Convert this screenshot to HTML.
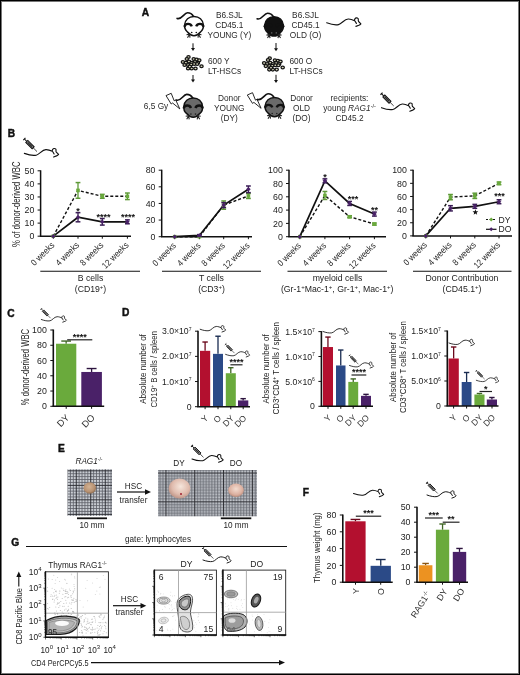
<!DOCTYPE html><html><head><meta charset="utf-8"><style>html,body{margin:0;padding:0;background:#fff;overflow:hidden;width:520px;height:675px;}svg{display:block;will-change:transform;font-family:"Liberation Sans", sans-serif;}</style></head><body><svg width="520" height="675" viewBox="0 0 520 675" font-family="Liberation Sans, sans-serif"><rect width="520" height="675" fill="#fff"/>
<defs>
<path id="smouse" d="M0,0 C4,1.5 8.5,2.4 11.8,1.8 C15,1.2 17.5,-3.6 21.5,-3.8 C24,-3.9 26.5,-2.8 27.9,-2.1 C27.6,-3.4 28.4,-4.8 29.8,-4.9 C31,-5 31.8,-4.2 31.6,-3.4 C31.5,-2.5 31.6,-1.8 31.9,-1.3 L34.2,1 C33.5,1.8 32.8,2.2 32.1,2.5 L29.2,3.6 M28.4,-1.6 L29.7,0.6" fill="none" stroke="#111" stroke-width="1.15" stroke-linecap="round" stroke-linejoin="round"/>
<g id="syr">
 <line x1="0" y1="-1.6" x2="0" y2="1.6" stroke="#111" stroke-width="1.2"/>
 <line x1="0" y1="0" x2="3.6" y2="0" stroke="#111" stroke-width="1.1"/>
 <rect x="3.6" y="-1.5" width="9.6" height="3.0" fill="#888" stroke="#111" stroke-width="1.1"/>
 <line x1="5" y1="0" x2="11.5" y2="0" stroke="#222" stroke-width="1.1"/>
 <line x1="13.2" y1="0" x2="19" y2="0" stroke="#111" stroke-width="0.8"/>
</g>
<g id="tmouse">
 <path d="M-16.9,-7.8 C-12.5,-6 -10,-13.4 -6.5,-13.4 C-3.5,-13.4 -1.5,-11.5 -0.4,-9.6" fill="none" stroke="#111" stroke-width="1.6" stroke-linecap="round"/>
 <path d="M0,-9.8 C5.3,-9.8 8.8,-6.3 9.3,-1.5 C9.8,1.5 8.5,4 6.5,5.8 C4.5,8.2 2.5,9.5 0,9.5 C-2.5,9.5 -4.5,8.2 -6.5,5.8 C-8.5,4 -9.8,1.5 -9.3,-1.5 C-8.8,-6.3 -5.3,-9.8 0,-9.8Z" stroke="#111" stroke-width="1.5"/>
 <path d="M-9.5,0.6 C-8.8,-3.2 -3.5,-3.2 -2.2,0.2" fill="none" stroke="#111" stroke-width="2.4"/>
 <path d="M9.5,0.6 C8.8,-3.2 3.5,-3.2 2.2,0.2" fill="none" stroke="#111" stroke-width="2.4"/>
 <path d="M-7.5,8.5 L-4.5,8 L-6.5,11.5 M-4.5,8 L-4,11.5 M7.5,8.5 L4.5,8 L6.5,11.5 M4.5,8 L4,11.5" fill="none" stroke="#222" stroke-width="1.1"/>
</g>
<path id="bolt" d="M0,0 L5.2,-2.3 L8.2,5.2 L9.7,4.3 L13.8,13.3 L6.6,7.4 L5.2,8.4 Z" fill="#fff" stroke="#111" stroke-width="0.9" stroke-linejoin="miter"/>
<pattern id="grid" x="75.75" y="470.35" width="14.5" height="14.5" patternUnits="userSpaceOnUse">
 <rect width="14.5" height="14.5" fill="#ccd0d6"/>
 <path d="M0,0.45H14.5 M0.45,0V14.5 M0,3.35H14.5 M3.35,0V14.5 M0,6.25H14.5 M6.25,0V14.5 M0,9.15H14.5 M9.15,0V14.5 M0,12.05H14.5 M12.05,0V14.5" stroke="#5c5f68" stroke-width="0.85"/>
 <path d="M0,0.45H14.5 M0.45,0V14.5" stroke="#2a2b31" stroke-width="1.1"/>
</pattern>
<pattern id="grid2" x="165.45000000000002" y="472.55" width="28.8" height="28.8" patternUnits="userSpaceOnUse">
 <rect width="28.8" height="28.8" fill="#c2c5cb"/>
 <path d="M0,0.45H28.8 M0.45,0V28.8 M0,3.33H28.8 M3.33,0V28.8 M0,6.21H28.8 M6.21,0V28.8 M0,9.09H28.8 M9.09,0V28.8 M0,11.97H28.8 M11.97,0V28.8 M0,14.85H28.8 M14.85,0V28.8 M0,17.73H28.8 M17.73,0V28.8 M0,20.61H28.8 M20.61,0V28.8 M0,23.49H28.8 M23.49,0V28.8 M0,26.37H28.8 M26.37,0V28.8" stroke="#62656d" stroke-width="0.85"/>
 <path d="M0,0.45H28.8 M0.45,0V28.8" stroke="#2c2d32" stroke-width="1.1"/>
</pattern>
<radialGradient id="thy1" cx="0.45" cy="0.4" r="0.6"><stop offset="0" stop-color="#d2b294"/><stop offset="0.7" stop-color="#b89272"/><stop offset="1" stop-color="#8e6d50"/></radialGradient>
<radialGradient id="thy2" cx="0.55" cy="0.4" r="0.65"><stop offset="0" stop-color="#f6e6dc"/><stop offset="0.6" stop-color="#e0bcae"/><stop offset="1" stop-color="#b98e80"/></radialGradient>
<radialGradient id="thy3" cx="0.5" cy="0.4" r="0.6"><stop offset="0" stop-color="#f3dcd0"/><stop offset="0.7" stop-color="#dcb0a0"/><stop offset="1" stop-color="#b88a7a"/></radialGradient>
</defs>

<rect x="0.5" y="0.5" width="519" height="674" fill="none" stroke="#000" stroke-width="1"/>
<rect x="1.5" y="1.5" width="517" height="672" fill="none" stroke="#777" stroke-width="1"/>
<text x="141.8" y="16.3" font-size="10.2" text-anchor="start" fill="#111" font-weight="bold" stroke="#111" stroke-width="0.45">A</text>
<g transform="translate(194,26.2) scale(1.0)" fill="#fff"><use href="#tmouse"/><circle cx="-2.3" cy="6.3" r="0.8" fill="#111"/><circle cx="2.3" cy="6.3" r="0.8" fill="#111"/></g>
<g transform="translate(274,26.6) scale(1.0)" fill="#111"><use href="#tmouse"/><circle cx="-2.3" cy="6.3" r="0.8" fill="#555"/><circle cx="2.3" cy="6.3" r="0.8" fill="#555"/></g>
<text x="229.3" y="17.8" font-size="8.3" text-anchor="middle" fill="#2a2a2a" font-weight="normal" >B6.SJL</text>
<text x="229.3" y="27.9" font-size="8.3" text-anchor="middle" fill="#2a2a2a" font-weight="normal" >CD45.1</text>
<text x="229.3" y="38.0" font-size="8.3" text-anchor="middle" fill="#2a2a2a" font-weight="normal" >YOUNG (Y)</text>
<text x="305.5" y="17.8" font-size="8.3" text-anchor="middle" fill="#2a2a2a" font-weight="normal" >B6.SJL</text>
<text x="305.5" y="27.9" font-size="8.3" text-anchor="middle" fill="#2a2a2a" font-weight="normal" >CD45.1</text>
<text x="305.5" y="38.0" font-size="8.3" text-anchor="middle" fill="#2a2a2a" font-weight="normal" >OLD (O)</text>
<use href="#smouse" transform="translate(326.7,22.8) scale(1.0)" />
<line x1="193" y1="43.3" x2="193" y2="48.5" stroke="#111" stroke-width="1"/>
<path d="M191,48 L195,48 L193,51 Z" fill="#111"/>
<line x1="276" y1="43" x2="276" y2="48.8" stroke="#111" stroke-width="1"/>
<path d="M274,48.3 L278,48.3 L276,51.3 Z" fill="#111"/>
<ellipse cx="188.5" cy="57.099999999999994" rx="1.65" ry="1.4" fill="#deddc0" stroke="#121212" stroke-width="1.25"/>
<ellipse cx="193.70000000000002" cy="59.099999999999994" rx="1.65" ry="1.4" fill="#deddc0" stroke="#121212" stroke-width="1.25"/>
<ellipse cx="196.70000000000002" cy="59.5" rx="1.65" ry="1.4" fill="#deddc0" stroke="#121212" stroke-width="1.25"/>
<ellipse cx="199.3" cy="60.199999999999996" rx="1.65" ry="1.4" fill="#deddc0" stroke="#121212" stroke-width="1.25"/>
<ellipse cx="186.8" cy="58.9" rx="1.65" ry="1.4" fill="#deddc0" stroke="#121212" stroke-width="1.25"/>
<ellipse cx="182.9" cy="61.9" rx="1.65" ry="1.4" fill="#deddc0" stroke="#121212" stroke-width="1.25"/>
<ellipse cx="185.9" cy="62.8" rx="1.65" ry="1.4" fill="#deddc0" stroke="#121212" stroke-width="1.25"/>
<ellipse cx="189.0" cy="61.5" rx="1.65" ry="1.4" fill="#deddc0" stroke="#121212" stroke-width="1.25"/>
<ellipse cx="191.60000000000002" cy="62.8" rx="1.65" ry="1.4" fill="#deddc0" stroke="#121212" stroke-width="1.25"/>
<ellipse cx="195.0" cy="61.9" rx="1.65" ry="1.4" fill="#deddc0" stroke="#121212" stroke-width="1.25"/>
<ellipse cx="198.0" cy="62.8" rx="1.65" ry="1.4" fill="#deddc0" stroke="#121212" stroke-width="1.25"/>
<ellipse cx="184.60000000000002" cy="64.89999999999999" rx="1.65" ry="1.4" fill="#deddc0" stroke="#121212" stroke-width="1.25"/>
<ellipse cx="188.10000000000002" cy="64.89999999999999" rx="1.65" ry="1.4" fill="#deddc0" stroke="#121212" stroke-width="1.25"/>
<ellipse cx="191.10000000000002" cy="64.5" rx="1.65" ry="1.4" fill="#deddc0" stroke="#121212" stroke-width="1.25"/>
<ellipse cx="194.20000000000002" cy="64.0" rx="1.65" ry="1.4" fill="#deddc0" stroke="#121212" stroke-width="1.25"/>
<ellipse cx="197.20000000000002" cy="64.0" rx="1.65" ry="1.4" fill="#deddc0" stroke="#121212" stroke-width="1.25"/>
<ellipse cx="201.5" cy="66.2" rx="1.65" ry="1.4" fill="#deddc0" stroke="#121212" stroke-width="1.25"/>
<ellipse cx="188.10000000000002" cy="68.39999999999999" rx="1.65" ry="1.4" fill="#deddc0" stroke="#121212" stroke-width="1.25"/>
<ellipse cx="191.60000000000002" cy="68.39999999999999" rx="1.65" ry="1.4" fill="#deddc0" stroke="#121212" stroke-width="1.25"/>
<ellipse cx="195.5" cy="68.39999999999999" rx="1.65" ry="1.4" fill="#deddc0" stroke="#121212" stroke-width="1.25"/>
<ellipse cx="189.8" cy="66.6" rx="1.65" ry="1.4" fill="#deddc0" stroke="#121212" stroke-width="1.25"/>
<ellipse cx="269.7" cy="58.3" rx="1.65" ry="1.4" fill="#deddc0" stroke="#121212" stroke-width="1.25"/>
<ellipse cx="274.9" cy="60.3" rx="1.65" ry="1.4" fill="#deddc0" stroke="#121212" stroke-width="1.25"/>
<ellipse cx="277.9" cy="60.7" rx="1.65" ry="1.4" fill="#deddc0" stroke="#121212" stroke-width="1.25"/>
<ellipse cx="280.5" cy="61.4" rx="1.65" ry="1.4" fill="#deddc0" stroke="#121212" stroke-width="1.25"/>
<ellipse cx="268.0" cy="60.1" rx="1.65" ry="1.4" fill="#deddc0" stroke="#121212" stroke-width="1.25"/>
<ellipse cx="264.1" cy="63.1" rx="1.65" ry="1.4" fill="#deddc0" stroke="#121212" stroke-width="1.25"/>
<ellipse cx="267.1" cy="64" rx="1.65" ry="1.4" fill="#deddc0" stroke="#121212" stroke-width="1.25"/>
<ellipse cx="270.2" cy="62.7" rx="1.65" ry="1.4" fill="#deddc0" stroke="#121212" stroke-width="1.25"/>
<ellipse cx="272.8" cy="64" rx="1.65" ry="1.4" fill="#deddc0" stroke="#121212" stroke-width="1.25"/>
<ellipse cx="276.2" cy="63.1" rx="1.65" ry="1.4" fill="#deddc0" stroke="#121212" stroke-width="1.25"/>
<ellipse cx="279.2" cy="64" rx="1.65" ry="1.4" fill="#deddc0" stroke="#121212" stroke-width="1.25"/>
<ellipse cx="265.8" cy="66.1" rx="1.65" ry="1.4" fill="#deddc0" stroke="#121212" stroke-width="1.25"/>
<ellipse cx="269.3" cy="66.1" rx="1.65" ry="1.4" fill="#deddc0" stroke="#121212" stroke-width="1.25"/>
<ellipse cx="272.3" cy="65.7" rx="1.65" ry="1.4" fill="#deddc0" stroke="#121212" stroke-width="1.25"/>
<ellipse cx="275.4" cy="65.2" rx="1.65" ry="1.4" fill="#deddc0" stroke="#121212" stroke-width="1.25"/>
<ellipse cx="278.4" cy="65.2" rx="1.65" ry="1.4" fill="#deddc0" stroke="#121212" stroke-width="1.25"/>
<ellipse cx="282.7" cy="67.4" rx="1.65" ry="1.4" fill="#deddc0" stroke="#121212" stroke-width="1.25"/>
<ellipse cx="269.3" cy="69.6" rx="1.65" ry="1.4" fill="#deddc0" stroke="#121212" stroke-width="1.25"/>
<ellipse cx="272.8" cy="69.6" rx="1.65" ry="1.4" fill="#deddc0" stroke="#121212" stroke-width="1.25"/>
<ellipse cx="276.7" cy="69.6" rx="1.65" ry="1.4" fill="#deddc0" stroke="#121212" stroke-width="1.25"/>
<ellipse cx="271.0" cy="67.8" rx="1.65" ry="1.4" fill="#deddc0" stroke="#121212" stroke-width="1.25"/>
<text x="208" y="64.3" font-size="8.3" text-anchor="start" fill="#2a2a2a" font-weight="normal" >600 Y</text>
<text x="208" y="74.4" font-size="8.3" text-anchor="start" fill="#2a2a2a" font-weight="normal" >LT-HSCs</text>
<text x="289.5" y="64.3" font-size="8.3" text-anchor="start" fill="#2a2a2a" font-weight="normal" >600 O</text>
<text x="289.5" y="74.4" font-size="8.3" text-anchor="start" fill="#2a2a2a" font-weight="normal" >LT-HSCs</text>
<line x1="193" y1="75" x2="193" y2="80.1" stroke="#111" stroke-width="1"/>
<path d="M191,79.6 L195,79.6 L193,82.6 Z" fill="#111"/>
<line x1="276" y1="74.8" x2="276" y2="80.5" stroke="#111" stroke-width="1"/>
<path d="M274,80 L278,80 L276,83 Z" fill="#111"/>
<text x="143.8" y="108.6" font-size="8.3" text-anchor="start" fill="#2a2a2a" font-weight="normal" >6,5 Gy</text>
<use href="#bolt" transform="translate(166,95.6)"/>
<use href="#bolt" transform="translate(247.3,95)"/>
<g transform="translate(193.2,107.8) scale(1.0)" fill="#6a6a6a"><use href="#tmouse"/><circle cx="-2.3" cy="6.3" r="0.8" fill="#222"/><circle cx="2.3" cy="6.3" r="0.8" fill="#222"/></g>
<g transform="translate(274.5,107.2) scale(1.0)" fill="#6a6a6a"><use href="#tmouse"/><circle cx="-2.3" cy="6.3" r="0.8" fill="#222"/><circle cx="2.3" cy="6.3" r="0.8" fill="#222"/></g>
<text x="229.3" y="100.6" font-size="8.3" text-anchor="middle" fill="#2a2a2a" font-weight="normal" >Donor</text>
<text x="229.3" y="110.8" font-size="8.3" text-anchor="middle" fill="#2a2a2a" font-weight="normal" >YOUNG</text>
<text x="229.3" y="121.0" font-size="8.3" text-anchor="middle" fill="#2a2a2a" font-weight="normal" >(DY)</text>
<text x="301.5" y="100.6" font-size="8.3" text-anchor="middle" fill="#2a2a2a" font-weight="normal" >Donor</text>
<text x="301.5" y="110.8" font-size="8.3" text-anchor="middle" fill="#2a2a2a" font-weight="normal" >OLD</text>
<text x="301.5" y="121.0" font-size="8.3" text-anchor="middle" fill="#2a2a2a" font-weight="normal" >(DO)</text>
<text x="349.5" y="101.2" font-size="8.3" text-anchor="middle" fill="#2a2a2a" font-weight="normal" >recipients:</text>
<text x="349.5" y="111.0" font-size="8.3" text-anchor="middle" fill="#2a2a2a" font-weight="normal" >young <tspan font-style="italic">RAG1</tspan><tspan font-size="5.5" dy="-3">-/-</tspan></text>
<text x="349.5" y="120.8" font-size="8.3" text-anchor="middle" fill="#2a2a2a" font-weight="normal" >CD45.2</text>
<use href="#smouse" transform="translate(381.5,107.7) scale(0.9705882352941176)" />
<use href="#syr" transform="translate(381.5,93.7235294117647) rotate(45) scale(0.9102631567101129)" />
<text x="7.7" y="137.3" font-size="10.2" text-anchor="start" fill="#111" font-weight="bold" stroke="#111" stroke-width="0.45">B</text>
<use href="#smouse" transform="translate(24.4,153.4) scale(1.0)" />
<use href="#syr" transform="translate(24.4,139.0) rotate(45) scale(0.9378468887316315)" />
<line x1="40.6" y1="170.3" x2="40.6" y2="236.2" stroke="#111" stroke-width="1.5"/>
<line x1="39.9" y1="236.2" x2="131" y2="236.2" stroke="#111" stroke-width="1.5"/>
<line x1="37.6" y1="236.2" x2="40.6" y2="236.2" stroke="#111" stroke-width="1"/>
<text x="34.4" y="239.39999999999998" font-size="8.8" text-anchor="end" fill="#222" font-weight="normal" >0</text>
<line x1="37.6" y1="223.12" x2="40.6" y2="223.12" stroke="#111" stroke-width="1"/>
<text x="34.4" y="226.32" font-size="8.8" text-anchor="end" fill="#222" font-weight="normal" >10</text>
<line x1="37.6" y1="210.04" x2="40.6" y2="210.04" stroke="#111" stroke-width="1"/>
<text x="34.4" y="213.23999999999998" font-size="8.8" text-anchor="end" fill="#222" font-weight="normal" >20</text>
<line x1="37.6" y1="196.96" x2="40.6" y2="196.96" stroke="#111" stroke-width="1"/>
<text x="34.4" y="200.16" font-size="8.8" text-anchor="end" fill="#222" font-weight="normal" >30</text>
<line x1="37.6" y1="183.88" x2="40.6" y2="183.88" stroke="#111" stroke-width="1"/>
<text x="34.4" y="187.07999999999998" font-size="8.8" text-anchor="end" fill="#222" font-weight="normal" >40</text>
<line x1="37.6" y1="170.8" x2="40.6" y2="170.8" stroke="#111" stroke-width="1"/>
<text x="34.4" y="174.0" font-size="8.8" text-anchor="end" fill="#222" font-weight="normal" >50</text>
<line x1="53.3" y1="236.2" x2="53.3" y2="238.7" stroke="#111" stroke-width="1"/>
<line x1="78" y1="236.2" x2="78" y2="238.7" stroke="#111" stroke-width="1"/>
<line x1="102.3" y1="236.2" x2="102.3" y2="238.7" stroke="#111" stroke-width="1"/>
<line x1="127.4" y1="236.2" x2="127.4" y2="238.7" stroke="#111" stroke-width="1"/>
<text transform="translate(55.099999999999994,245.7) rotate(-45) scale(0.88,1)" font-size="9.0" text-anchor="end" fill="#222" >0 weeks</text>
<text transform="translate(79.8,245.7) rotate(-45) scale(0.88,1)" font-size="9.0" text-anchor="end" fill="#222" >4 weeks</text>
<text transform="translate(104.1,245.7) rotate(-45) scale(0.88,1)" font-size="9.0" text-anchor="end" fill="#222" >8 weeks</text>
<text transform="translate(129.20000000000002,245.7) rotate(-45) scale(0.88,1)" font-size="9.0" text-anchor="end" fill="#222" >12 weeks</text>
<polyline points="53.3,236.2 78,190.42000000000002 102.3,196.30599999999998 127.4,196.30599999999998" fill="none" stroke="#111" stroke-width="1.4" stroke-dasharray="3,2"/>
<polyline points="53.3,236.2 78,217.23399999999998 102.3,221.81199999999998 127.4,221.81199999999998" fill="none" stroke="#111" stroke-width="1.7"/>
<rect x="51.5" y="234.39999999999998" width="3.6" height="3.6" fill="#6aaa3c"/>
<line x1="78" y1="182.572" x2="78" y2="198.268" stroke="#5f9a38" stroke-width="1.3"/>
<line x1="75.6" y1="182.572" x2="80.4" y2="182.572" stroke="#5f9a38" stroke-width="1.5"/>
<line x1="75.6" y1="198.268" x2="80.4" y2="198.268" stroke="#5f9a38" stroke-width="1.5"/>
<rect x="76.2" y="188.62" width="3.6" height="3.6" fill="#6aaa3c"/>
<line x1="102.3" y1="194.344" x2="102.3" y2="198.268" stroke="#5f9a38" stroke-width="1.3"/>
<line x1="99.89999999999999" y1="194.344" x2="104.7" y2="194.344" stroke="#5f9a38" stroke-width="1.5"/>
<line x1="99.89999999999999" y1="198.268" x2="104.7" y2="198.268" stroke="#5f9a38" stroke-width="1.5"/>
<rect x="100.5" y="194.50599999999997" width="3.6" height="3.6" fill="#6aaa3c"/>
<line x1="127.4" y1="193.036" x2="127.4" y2="199.576" stroke="#5f9a38" stroke-width="1.3"/>
<line x1="125.0" y1="193.036" x2="129.8" y2="193.036" stroke="#5f9a38" stroke-width="1.5"/>
<line x1="125.0" y1="199.576" x2="129.8" y2="199.576" stroke="#5f9a38" stroke-width="1.5"/>
<rect x="125.60000000000001" y="194.50599999999997" width="3.6" height="3.6" fill="#6aaa3c"/>
<path d="M53.3,233.89999999999998 L55.599999999999994,236.2 L53.3,238.5 L51.0,236.2 Z" fill="#4a2168"/>
<line x1="78" y1="212.656" x2="78" y2="221.81199999999998" stroke="#3a1d55" stroke-width="1.3"/>
<line x1="75.6" y1="212.656" x2="80.4" y2="212.656" stroke="#3a1d55" stroke-width="1.5"/>
<line x1="75.6" y1="221.81199999999998" x2="80.4" y2="221.81199999999998" stroke="#3a1d55" stroke-width="1.5"/>
<path d="M78,214.93399999999997 L80.3,217.23399999999998 L78,219.534 L75.7,217.23399999999998 Z" fill="#4a2168"/>
<line x1="102.3" y1="218.542" x2="102.3" y2="225.082" stroke="#3a1d55" stroke-width="1.3"/>
<line x1="99.89999999999999" y1="218.542" x2="104.7" y2="218.542" stroke="#3a1d55" stroke-width="1.5"/>
<line x1="99.89999999999999" y1="225.082" x2="104.7" y2="225.082" stroke="#3a1d55" stroke-width="1.5"/>
<path d="M102.3,219.51199999999997 L104.6,221.81199999999998 L102.3,224.112 L100.0,221.81199999999998 Z" fill="#4a2168"/>
<line x1="127.4" y1="219.85" x2="127.4" y2="223.774" stroke="#3a1d55" stroke-width="1.3"/>
<line x1="125.0" y1="219.85" x2="129.8" y2="219.85" stroke="#3a1d55" stroke-width="1.5"/>
<line x1="125.0" y1="223.774" x2="129.8" y2="223.774" stroke="#3a1d55" stroke-width="1.5"/>
<path d="M127.4,219.51199999999997 L129.70000000000002,221.81199999999998 L127.4,224.112 L125.10000000000001,221.81199999999998 Z" fill="#4a2168"/>
<text x="78.1" y="213.63" font-size="9.0" font-weight="bold" text-anchor="middle" letter-spacing="0" fill="#111">*</text>
<text x="103.5" y="220.13" font-size="9.0" font-weight="bold" text-anchor="middle" letter-spacing="0" fill="#111">****</text>
<text x="128" y="220.42999999999998" font-size="9.0" font-weight="bold" text-anchor="middle" letter-spacing="0" fill="#111">****</text>
<line x1="40.3" y1="271.2" x2="140" y2="271.2" stroke="#111" stroke-width="1.1"/>
<text x="90.5" y="280.9" font-size="8.7" text-anchor="middle" fill="#222" font-weight="normal" >B cells</text>
<text x="90.5" y="292.4" font-size="8.7" text-anchor="middle" fill="#222" font-weight="normal" >(CD19<tspan font-size="6" dy="-3">+</tspan><tspan dy="3">)</tspan></text>
<text transform="translate(20.2,204.2) rotate(-90)" font-size="10.0" text-anchor="middle" fill="#222"  textLength="85.6" lengthAdjust="spacingAndGlyphs">% of donor-derived WBC</text>
<line x1="161.7" y1="169.7" x2="161.7" y2="236.7" stroke="#111" stroke-width="1.5"/>
<line x1="161.0" y1="236.7" x2="252" y2="236.7" stroke="#111" stroke-width="1.5"/>
<line x1="158.7" y1="236.7" x2="161.7" y2="236.7" stroke="#111" stroke-width="1"/>
<text x="155.5" y="239.89999999999998" font-size="8.8" text-anchor="end" fill="#222" font-weight="normal" >0</text>
<line x1="158.7" y1="220.075" x2="161.7" y2="220.075" stroke="#111" stroke-width="1"/>
<text x="155.5" y="223.27499999999998" font-size="8.8" text-anchor="end" fill="#222" font-weight="normal" >20</text>
<line x1="158.7" y1="203.45" x2="161.7" y2="203.45" stroke="#111" stroke-width="1"/>
<text x="155.5" y="206.64999999999998" font-size="8.8" text-anchor="end" fill="#222" font-weight="normal" >40</text>
<line x1="158.7" y1="186.825" x2="161.7" y2="186.825" stroke="#111" stroke-width="1"/>
<text x="155.5" y="190.02499999999998" font-size="8.8" text-anchor="end" fill="#222" font-weight="normal" >60</text>
<line x1="158.7" y1="170.2" x2="161.7" y2="170.2" stroke="#111" stroke-width="1"/>
<text x="155.5" y="173.39999999999998" font-size="8.8" text-anchor="end" fill="#222" font-weight="normal" >80</text>
<line x1="174.7" y1="236.7" x2="174.7" y2="239.2" stroke="#111" stroke-width="1"/>
<line x1="199.4" y1="236.7" x2="199.4" y2="239.2" stroke="#111" stroke-width="1"/>
<line x1="223.7" y1="236.7" x2="223.7" y2="239.2" stroke="#111" stroke-width="1"/>
<line x1="248.4" y1="236.7" x2="248.4" y2="239.2" stroke="#111" stroke-width="1"/>
<text transform="translate(176.5,246.2) rotate(-45) scale(0.88,1)" font-size="9.0" text-anchor="end" fill="#222" >0 weeks</text>
<text transform="translate(201.20000000000002,246.2) rotate(-45) scale(0.88,1)" font-size="9.0" text-anchor="end" fill="#222" >4 weeks</text>
<text transform="translate(225.5,246.2) rotate(-45) scale(0.88,1)" font-size="9.0" text-anchor="end" fill="#222" >8 weeks</text>
<text transform="translate(250.20000000000002,246.2) rotate(-45) scale(0.88,1)" font-size="9.0" text-anchor="end" fill="#222" >12 weeks</text>
<polyline points="174.7,236.7 199.4,236.7 223.7,205.11249999999998 248.4,195.96875" fill="none" stroke="#111" stroke-width="1.4" stroke-dasharray="3,2"/>
<polyline points="174.7,236.7 199.4,235.453125 223.7,205.11249999999998 248.4,189.31875" fill="none" stroke="#111" stroke-width="1.7"/>
<rect x="172.89999999999998" y="234.89999999999998" width="3.6" height="3.6" fill="#6aaa3c"/>
<rect x="197.6" y="234.89999999999998" width="3.6" height="3.6" fill="#6aaa3c"/>
<line x1="223.7" y1="200.95624999999998" x2="223.7" y2="209.26874999999998" stroke="#5f9a38" stroke-width="1.3"/>
<line x1="221.29999999999998" y1="200.95624999999998" x2="226.1" y2="200.95624999999998" stroke="#5f9a38" stroke-width="1.5"/>
<line x1="221.29999999999998" y1="209.26874999999998" x2="226.1" y2="209.26874999999998" stroke="#5f9a38" stroke-width="1.5"/>
<rect x="221.89999999999998" y="203.31249999999997" width="3.6" height="3.6" fill="#6aaa3c"/>
<line x1="248.4" y1="193.475" x2="248.4" y2="198.46249999999998" stroke="#5f9a38" stroke-width="1.3"/>
<line x1="246.0" y1="193.475" x2="250.8" y2="193.475" stroke="#5f9a38" stroke-width="1.5"/>
<line x1="246.0" y1="198.46249999999998" x2="250.8" y2="198.46249999999998" stroke="#5f9a38" stroke-width="1.5"/>
<rect x="246.6" y="194.16875" width="3.6" height="3.6" fill="#6aaa3c"/>
<path d="M174.7,234.39999999999998 L177.0,236.7 L174.7,239.0 L172.39999999999998,236.7 Z" fill="#4a2168"/>
<line x1="199.4" y1="234.621875" x2="199.4" y2="236.28437499999998" stroke="#3a1d55" stroke-width="1.3"/>
<line x1="197.0" y1="234.621875" x2="201.8" y2="234.621875" stroke="#3a1d55" stroke-width="1.5"/>
<line x1="197.0" y1="236.28437499999998" x2="201.8" y2="236.28437499999998" stroke="#3a1d55" stroke-width="1.5"/>
<path d="M199.4,233.153125 L201.70000000000002,235.453125 L199.4,237.753125 L197.1,235.453125 Z" fill="#4a2168"/>
<line x1="223.7" y1="202.61874999999998" x2="223.7" y2="207.60625" stroke="#3a1d55" stroke-width="1.3"/>
<line x1="221.29999999999998" y1="202.61874999999998" x2="226.1" y2="202.61874999999998" stroke="#3a1d55" stroke-width="1.5"/>
<line x1="221.29999999999998" y1="207.60625" x2="226.1" y2="207.60625" stroke="#3a1d55" stroke-width="1.5"/>
<path d="M223.7,202.81249999999997 L226.0,205.11249999999998 L223.7,207.4125 L221.39999999999998,205.11249999999998 Z" fill="#4a2168"/>
<line x1="248.4" y1="185.99374999999998" x2="248.4" y2="192.64374999999998" stroke="#3a1d55" stroke-width="1.3"/>
<line x1="246.0" y1="185.99374999999998" x2="250.8" y2="185.99374999999998" stroke="#3a1d55" stroke-width="1.5"/>
<line x1="246.0" y1="192.64374999999998" x2="250.8" y2="192.64374999999998" stroke="#3a1d55" stroke-width="1.5"/>
<path d="M248.4,187.01874999999998 L250.70000000000002,189.31875 L248.4,191.61875 L246.1,189.31875 Z" fill="#4a2168"/>
<line x1="162" y1="271.2" x2="261" y2="271.2" stroke="#111" stroke-width="1.1"/>
<text x="211.5" y="280.9" font-size="8.7" text-anchor="middle" fill="#222" font-weight="normal" >T cells</text>
<text x="211.5" y="292.4" font-size="8.7" text-anchor="middle" fill="#222" font-weight="normal" >(CD3<tspan font-size="6" dy="-3">+</tspan><tspan dy="3">)</tspan></text>
<line x1="289" y1="169.7" x2="289" y2="236.7" stroke="#111" stroke-width="1.5"/>
<line x1="288.3" y1="236.7" x2="386" y2="236.7" stroke="#111" stroke-width="1.5"/>
<line x1="286" y1="236.7" x2="289" y2="236.7" stroke="#111" stroke-width="1"/>
<text x="282.8" y="239.89999999999998" font-size="8.8" text-anchor="end" fill="#222" font-weight="normal" >0</text>
<line x1="286" y1="223.39999999999998" x2="289" y2="223.39999999999998" stroke="#111" stroke-width="1"/>
<text x="282.8" y="226.59999999999997" font-size="8.8" text-anchor="end" fill="#222" font-weight="normal" >20</text>
<line x1="286" y1="210.1" x2="289" y2="210.1" stroke="#111" stroke-width="1"/>
<text x="282.8" y="213.29999999999998" font-size="8.8" text-anchor="end" fill="#222" font-weight="normal" >40</text>
<line x1="286" y1="196.79999999999998" x2="289" y2="196.79999999999998" stroke="#111" stroke-width="1"/>
<text x="282.8" y="199.99999999999997" font-size="8.8" text-anchor="end" fill="#222" font-weight="normal" >60</text>
<line x1="286" y1="183.5" x2="289" y2="183.5" stroke="#111" stroke-width="1"/>
<text x="282.8" y="186.7" font-size="8.8" text-anchor="end" fill="#222" font-weight="normal" >80</text>
<line x1="286" y1="170.2" x2="289" y2="170.2" stroke="#111" stroke-width="1"/>
<text x="282.8" y="173.39999999999998" font-size="8.8" text-anchor="end" fill="#222" font-weight="normal" >100</text>
<line x1="299.8" y1="236.7" x2="299.8" y2="239.2" stroke="#111" stroke-width="1"/>
<line x1="324.9" y1="236.7" x2="324.9" y2="239.2" stroke="#111" stroke-width="1"/>
<line x1="349.6" y1="236.7" x2="349.6" y2="239.2" stroke="#111" stroke-width="1"/>
<line x1="374.4" y1="236.7" x2="374.4" y2="239.2" stroke="#111" stroke-width="1"/>
<text transform="translate(301.6,246.2) rotate(-45) scale(0.88,1)" font-size="9.0" text-anchor="end" fill="#222" >0 weeks</text>
<text transform="translate(326.7,246.2) rotate(-45) scale(0.88,1)" font-size="9.0" text-anchor="end" fill="#222" >4 weeks</text>
<text transform="translate(351.40000000000003,246.2) rotate(-45) scale(0.88,1)" font-size="9.0" text-anchor="end" fill="#222" >8 weeks</text>
<text transform="translate(376.2,246.2) rotate(-45) scale(0.88,1)" font-size="9.0" text-anchor="end" fill="#222" >12 weeks</text>
<polyline points="299.8,236.7 324.9,195.46999999999997 349.6,216.75 374.4,224.065" fill="none" stroke="#111" stroke-width="1.4" stroke-dasharray="3,2"/>
<polyline points="299.8,236.7 324.9,180.83999999999997 349.6,203.45 374.4,214.08999999999997" fill="none" stroke="#111" stroke-width="1.7"/>
<rect x="298.0" y="234.89999999999998" width="3.6" height="3.6" fill="#6aaa3c"/>
<line x1="324.9" y1="191.48" x2="324.9" y2="199.45999999999998" stroke="#5f9a38" stroke-width="1.3"/>
<line x1="322.5" y1="191.48" x2="327.29999999999995" y2="191.48" stroke="#5f9a38" stroke-width="1.5"/>
<line x1="322.5" y1="199.45999999999998" x2="327.29999999999995" y2="199.45999999999998" stroke="#5f9a38" stroke-width="1.5"/>
<rect x="323.09999999999997" y="193.66999999999996" width="3.6" height="3.6" fill="#6aaa3c"/>
<line x1="349.6" y1="215.7525" x2="349.6" y2="217.7475" stroke="#5f9a38" stroke-width="1.3"/>
<line x1="347.20000000000005" y1="215.7525" x2="352.0" y2="215.7525" stroke="#5f9a38" stroke-width="1.5"/>
<line x1="347.20000000000005" y1="217.7475" x2="352.0" y2="217.7475" stroke="#5f9a38" stroke-width="1.5"/>
<rect x="347.8" y="214.95" width="3.6" height="3.6" fill="#6aaa3c"/>
<line x1="374.4" y1="223.0675" x2="374.4" y2="225.0625" stroke="#5f9a38" stroke-width="1.3"/>
<line x1="372.0" y1="223.0675" x2="376.79999999999995" y2="223.0675" stroke="#5f9a38" stroke-width="1.5"/>
<line x1="372.0" y1="225.0625" x2="376.79999999999995" y2="225.0625" stroke="#5f9a38" stroke-width="1.5"/>
<rect x="372.59999999999997" y="222.265" width="3.6" height="3.6" fill="#6aaa3c"/>
<path d="M299.8,234.39999999999998 L302.1,236.7 L299.8,239.0 L297.5,236.7 Z" fill="#4a2168"/>
<line x1="324.9" y1="178.84499999999997" x2="324.9" y2="182.83499999999998" stroke="#3a1d55" stroke-width="1.3"/>
<line x1="322.5" y1="178.84499999999997" x2="327.29999999999995" y2="178.84499999999997" stroke="#3a1d55" stroke-width="1.5"/>
<line x1="322.5" y1="182.83499999999998" x2="327.29999999999995" y2="182.83499999999998" stroke="#3a1d55" stroke-width="1.5"/>
<path d="M324.9,178.53999999999996 L327.2,180.83999999999997 L324.9,183.14 L322.59999999999997,180.83999999999997 Z" fill="#4a2168"/>
<line x1="349.6" y1="201.45499999999998" x2="349.6" y2="205.445" stroke="#3a1d55" stroke-width="1.3"/>
<line x1="347.20000000000005" y1="201.45499999999998" x2="352.0" y2="201.45499999999998" stroke="#3a1d55" stroke-width="1.5"/>
<line x1="347.20000000000005" y1="205.445" x2="352.0" y2="205.445" stroke="#3a1d55" stroke-width="1.5"/>
<path d="M349.6,201.14999999999998 L351.90000000000003,203.45 L349.6,205.75 L347.3,203.45 Z" fill="#4a2168"/>
<line x1="374.4" y1="212.095" x2="374.4" y2="216.08499999999998" stroke="#3a1d55" stroke-width="1.3"/>
<line x1="372.0" y1="212.095" x2="376.79999999999995" y2="212.095" stroke="#3a1d55" stroke-width="1.5"/>
<line x1="372.0" y1="216.08499999999998" x2="376.79999999999995" y2="216.08499999999998" stroke="#3a1d55" stroke-width="1.5"/>
<path d="M374.4,211.78999999999996 L376.7,214.08999999999997 L374.4,216.39 L372.09999999999997,214.08999999999997 Z" fill="#4a2168"/>
<text x="324.9" y="180.03" font-size="9.0" font-weight="bold" text-anchor="middle" letter-spacing="0" fill="#111">*</text>
<text x="353.1" y="202.03" font-size="9.0" font-weight="bold" text-anchor="middle" letter-spacing="0" fill="#111">***</text>
<text x="374.6" y="212.63" font-size="9.0" font-weight="bold" text-anchor="middle" letter-spacing="0" fill="#111">**</text>
<line x1="287.5" y1="271.2" x2="387" y2="271.2" stroke="#111" stroke-width="1.1"/>
<text x="337.5" y="280.9" font-size="8.7" text-anchor="middle" fill="#222" font-weight="normal" >myeloid cells</text>
<text x="337.2" y="292.4" font-size="8.7" text-anchor="middle" fill="#222" font-weight="normal" >(Gr-1<tspan font-size="6" dy="-3">+</tspan><tspan dy="3">Mac-1</tspan><tspan font-size="6" dy="-3">+</tspan><tspan dy="3">, Gr-1</tspan><tspan font-size="6" dy="-3">+</tspan><tspan dy="3">, Mac-1</tspan><tspan font-size="6" dy="-3">+</tspan><tspan dy="3">)</tspan></text>
<line x1="413.1" y1="169.7" x2="413.1" y2="235.9" stroke="#111" stroke-width="1.5"/>
<line x1="412.40000000000003" y1="235.9" x2="512" y2="235.9" stroke="#111" stroke-width="1.5"/>
<line x1="410.1" y1="235.9" x2="413.1" y2="235.9" stroke="#111" stroke-width="1"/>
<text x="406.90000000000003" y="239.1" font-size="8.8" text-anchor="end" fill="#222" font-weight="normal" >0</text>
<line x1="410.1" y1="222.76" x2="413.1" y2="222.76" stroke="#111" stroke-width="1"/>
<text x="406.90000000000003" y="225.95999999999998" font-size="8.8" text-anchor="end" fill="#222" font-weight="normal" >20</text>
<line x1="410.1" y1="209.62" x2="413.1" y2="209.62" stroke="#111" stroke-width="1"/>
<text x="406.90000000000003" y="212.82" font-size="8.8" text-anchor="end" fill="#222" font-weight="normal" >40</text>
<line x1="410.1" y1="196.48" x2="413.1" y2="196.48" stroke="#111" stroke-width="1"/>
<text x="406.90000000000003" y="199.67999999999998" font-size="8.8" text-anchor="end" fill="#222" font-weight="normal" >60</text>
<line x1="410.1" y1="183.34" x2="413.1" y2="183.34" stroke="#111" stroke-width="1"/>
<text x="406.90000000000003" y="186.54" font-size="8.8" text-anchor="end" fill="#222" font-weight="normal" >80</text>
<line x1="410.1" y1="170.2" x2="413.1" y2="170.2" stroke="#111" stroke-width="1"/>
<text x="406.90000000000003" y="173.39999999999998" font-size="8.8" text-anchor="end" fill="#222" font-weight="normal" >100</text>
<line x1="425.8" y1="235.9" x2="425.8" y2="238.4" stroke="#111" stroke-width="1"/>
<line x1="450.5" y1="235.9" x2="450.5" y2="238.4" stroke="#111" stroke-width="1"/>
<line x1="474.8" y1="235.9" x2="474.8" y2="238.4" stroke="#111" stroke-width="1"/>
<line x1="499" y1="235.9" x2="499" y2="238.4" stroke="#111" stroke-width="1"/>
<text transform="translate(427.6,245.4) rotate(-45) scale(0.88,1)" font-size="9.0" text-anchor="end" fill="#222" >0 weeks</text>
<text transform="translate(452.3,245.4) rotate(-45) scale(0.88,1)" font-size="9.0" text-anchor="end" fill="#222" >4 weeks</text>
<text transform="translate(476.6,245.4) rotate(-45) scale(0.88,1)" font-size="9.0" text-anchor="end" fill="#222" >8 weeks</text>
<text transform="translate(500.8,245.4) rotate(-45) scale(0.88,1)" font-size="9.0" text-anchor="end" fill="#222" >12 weeks</text>
<polyline points="425.8,235.9 450.5,197.137 474.8,195.823 499,183.34" fill="none" stroke="#111" stroke-width="1.4" stroke-dasharray="3,2"/>
<polyline points="425.8,235.9 450.5,208.306 474.8,206.335 499,201.736" fill="none" stroke="#111" stroke-width="1.7"/>
<rect x="424.0" y="234.1" width="3.6" height="3.6" fill="#6aaa3c"/>
<line x1="450.5" y1="194.50900000000001" x2="450.5" y2="199.765" stroke="#5f9a38" stroke-width="1.3"/>
<line x1="448.1" y1="194.50900000000001" x2="452.9" y2="194.50900000000001" stroke="#5f9a38" stroke-width="1.5"/>
<line x1="448.1" y1="199.765" x2="452.9" y2="199.765" stroke="#5f9a38" stroke-width="1.5"/>
<rect x="448.7" y="195.337" width="3.6" height="3.6" fill="#6aaa3c"/>
<line x1="474.8" y1="193.195" x2="474.8" y2="198.451" stroke="#5f9a38" stroke-width="1.3"/>
<line x1="472.40000000000003" y1="193.195" x2="477.2" y2="193.195" stroke="#5f9a38" stroke-width="1.5"/>
<line x1="472.40000000000003" y1="198.451" x2="477.2" y2="198.451" stroke="#5f9a38" stroke-width="1.5"/>
<rect x="473.0" y="194.023" width="3.6" height="3.6" fill="#6aaa3c"/>
<line x1="499" y1="182.026" x2="499" y2="184.654" stroke="#5f9a38" stroke-width="1.3"/>
<line x1="496.6" y1="182.026" x2="501.4" y2="182.026" stroke="#5f9a38" stroke-width="1.5"/>
<line x1="496.6" y1="184.654" x2="501.4" y2="184.654" stroke="#5f9a38" stroke-width="1.5"/>
<rect x="497.2" y="181.54" width="3.6" height="3.6" fill="#6aaa3c"/>
<path d="M425.8,233.6 L428.1,235.9 L425.8,238.20000000000002 L423.5,235.9 Z" fill="#4a2168"/>
<line x1="450.5" y1="205.678" x2="450.5" y2="210.934" stroke="#3a1d55" stroke-width="1.3"/>
<line x1="448.1" y1="205.678" x2="452.9" y2="205.678" stroke="#3a1d55" stroke-width="1.5"/>
<line x1="448.1" y1="210.934" x2="452.9" y2="210.934" stroke="#3a1d55" stroke-width="1.5"/>
<path d="M450.5,206.006 L452.8,208.306 L450.5,210.60600000000002 L448.2,208.306 Z" fill="#4a2168"/>
<line x1="474.8" y1="204.364" x2="474.8" y2="208.306" stroke="#3a1d55" stroke-width="1.3"/>
<line x1="472.40000000000003" y1="204.364" x2="477.2" y2="204.364" stroke="#3a1d55" stroke-width="1.5"/>
<line x1="472.40000000000003" y1="208.306" x2="477.2" y2="208.306" stroke="#3a1d55" stroke-width="1.5"/>
<path d="M474.8,204.035 L477.1,206.335 L474.8,208.63500000000002 L472.5,206.335 Z" fill="#4a2168"/>
<line x1="499" y1="199.765" x2="499" y2="203.707" stroke="#3a1d55" stroke-width="1.3"/>
<line x1="496.6" y1="199.765" x2="501.4" y2="199.765" stroke="#3a1d55" stroke-width="1.5"/>
<line x1="496.6" y1="203.707" x2="501.4" y2="203.707" stroke="#3a1d55" stroke-width="1.5"/>
<path d="M499,199.43599999999998 L501.3,201.736 L499,204.036 L496.7,201.736 Z" fill="#4a2168"/>
<polygon points="475.40,209.30 476.13,211.29 478.25,211.37 476.59,212.69 477.16,214.73 475.40,213.55 473.64,214.73 474.21,212.69 472.55,211.37 474.67,211.29" fill="#111"/>
<text x="499.6" y="198.82999999999998" font-size="9.0" font-weight="bold" text-anchor="middle" letter-spacing="0" fill="#111">***</text>
<line x1="413" y1="271.2" x2="511.5" y2="271.2" stroke="#111" stroke-width="1.1"/>
<text x="462" y="280.9" font-size="8.7" text-anchor="middle" fill="#222" font-weight="normal" >Donor Contribution</text>
<text x="462" y="292.4" font-size="8.7" text-anchor="middle" fill="#222" font-weight="normal" >(CD45.1<tspan font-size="6" dy="-3">+</tspan><tspan dy="3">)</tspan></text>
<line x1="486" y1="219.5" x2="496.5" y2="219.5" stroke="#111" stroke-width="1" stroke-dasharray="2,1.5"/>
<path d="M491.2,217.5 L493.2,219.5 L491.2,221.5 L489.2,219.5Z" fill="#6aaa3c"/>
<line x1="486" y1="229.3" x2="496.5" y2="229.3" stroke="#111" stroke-width="1.2"/>
<path d="M491.2,227.3 L493.2,229.3 L491.2,231.3 L489.2,229.3Z" fill="#4a2168"/>
<text x="498.5" y="222.6" font-size="8.6" text-anchor="start" fill="#222" font-weight="normal" >DY</text>
<text x="498.5" y="232.4" font-size="8.6" text-anchor="start" fill="#222" font-weight="normal" >DO</text>
<text x="7.3" y="317.2" font-size="10.2" text-anchor="start" fill="#111" font-weight="bold" stroke="#111" stroke-width="0.45">C</text>
<use href="#smouse" transform="translate(41.3,319.5) scale(0.7352941176470589)" />
<use href="#syr" transform="translate(41.3,308.9117647058824) rotate(45) scale(0.6895933005379643)" />
<line x1="66.15" y1="341.0635" x2="66.15" y2="343.734" stroke="#3f6624" stroke-width="1.3"/>
<line x1="61.278000000000006" y1="341.0635" x2="71.022" y2="341.0635" stroke="#3f6624" stroke-width="1.4"/>
<rect x="56" y="343.734" width="20.299999999999997" height="62.56600000000003" fill="#6aaa3c"/>
<line x1="91.6" y1="368.5315" x2="91.6" y2="371.96500000000003" stroke="#2c133e" stroke-width="1.3"/>
<line x1="86.65599999999999" y1="368.5315" x2="96.544" y2="368.5315" stroke="#2c133e" stroke-width="1.4"/>
<rect x="81.3" y="371.96500000000003" width="20.60000000000001" height="34.33499999999998" fill="#4a2168"/>
<line x1="53.3" y1="329.5" x2="53.3" y2="406.3" stroke="#111" stroke-width="1.6"/>
<line x1="52.5" y1="406.3" x2="104.2" y2="406.3" stroke="#111" stroke-width="1.6"/>
<line x1="50.3" y1="406.3" x2="53.3" y2="406.3" stroke="#111" stroke-width="1"/>
<text x="46.8" y="409.40000000000003" font-size="8.8" text-anchor="end" fill="#222" font-weight="normal" >0</text>
<line x1="50.3" y1="391.04" x2="53.3" y2="391.04" stroke="#111" stroke-width="1"/>
<text x="46.8" y="394.14000000000004" font-size="8.8" text-anchor="end" fill="#222" font-weight="normal" >20</text>
<line x1="50.3" y1="375.78000000000003" x2="53.3" y2="375.78000000000003" stroke="#111" stroke-width="1"/>
<text x="46.8" y="378.88000000000005" font-size="8.8" text-anchor="end" fill="#222" font-weight="normal" >40</text>
<line x1="50.3" y1="360.52" x2="53.3" y2="360.52" stroke="#111" stroke-width="1"/>
<text x="46.8" y="363.62" font-size="8.8" text-anchor="end" fill="#222" font-weight="normal" >60</text>
<line x1="50.3" y1="345.26" x2="53.3" y2="345.26" stroke="#111" stroke-width="1"/>
<text x="46.8" y="348.36" font-size="8.8" text-anchor="end" fill="#222" font-weight="normal" >80</text>
<line x1="50.3" y1="330.0" x2="53.3" y2="330.0" stroke="#111" stroke-width="1"/>
<text x="46.8" y="333.1" font-size="8.8" text-anchor="end" fill="#222" font-weight="normal" >100</text>
<line x1="66.2" y1="406.3" x2="66.2" y2="408.8" stroke="#111" stroke-width="1"/>
<text transform="translate(70.0,418.3) rotate(-45)" font-size="9.4" text-anchor="end" fill="#333" >DY</text>
<line x1="91.6" y1="406.3" x2="91.6" y2="408.8" stroke="#111" stroke-width="1"/>
<text transform="translate(95.39999999999999,418.3) rotate(-45)" font-size="9.4" text-anchor="end" fill="#333" >DO</text>
<line x1="67.2" y1="339.8" x2="92.3" y2="339.8" stroke="#222" stroke-width="1.2"/>
<text x="79.75" y="340.03000000000003" font-size="9.0" font-weight="bold" text-anchor="middle" letter-spacing="0" fill="#111">****</text>
<text transform="translate(28.6,367) rotate(-90)" font-size="10.3" text-anchor="middle" fill="#222"  textLength="76.3" lengthAdjust="spacingAndGlyphs">% donor-derived WBC</text>
<text x="122" y="316.2" font-size="10.2" text-anchor="start" fill="#111" font-weight="bold" stroke="#111" stroke-width="0.45">D</text>
<line x1="205.1" y1="342.02166666666665" x2="205.1" y2="350.83" stroke="#6b091c" stroke-width="1.3"/>
<line x1="202.4" y1="342.02166666666665" x2="207.79999999999998" y2="342.02166666666665" stroke="#6b091c" stroke-width="1.4"/>
<rect x="200" y="350.83" width="10.199999999999989" height="55.870000000000005" fill="#b3102f"/>
<line x1="218.0" y1="336.23333333333335" x2="218.0" y2="353.84999999999997" stroke="#192c51" stroke-width="1.3"/>
<line x1="215.3" y1="336.23333333333335" x2="220.7" y2="336.23333333333335" stroke="#192c51" stroke-width="1.4"/>
<rect x="213" y="353.84999999999997" width="10" height="52.85000000000002" fill="#2b4a87"/>
<line x1="230.8" y1="367.69166666666666" x2="230.8" y2="373.2283333333333" stroke="#3f6624" stroke-width="1.3"/>
<line x1="228.10000000000002" y1="367.69166666666666" x2="233.5" y2="367.69166666666666" stroke="#3f6624" stroke-width="1.4"/>
<rect x="225.8" y="373.2283333333333" width="10.0" height="33.47166666666669" fill="#6aaa3c"/>
<line x1="243.15" y1="398.64666666666665" x2="243.15" y2="400.4083333333333" stroke="#2c133e" stroke-width="1.3"/>
<line x1="240.45000000000002" y1="398.64666666666665" x2="245.85" y2="398.64666666666665" stroke="#2c133e" stroke-width="1.4"/>
<rect x="238" y="400.4083333333333" width="10.300000000000011" height="6.291666666666686" fill="#4a2168"/>
<line x1="198" y1="330.7" x2="198" y2="406.7" stroke="#111" stroke-width="1.6"/>
<line x1="197.2" y1="406.7" x2="250" y2="406.7" stroke="#111" stroke-width="1.6"/>
<line x1="195" y1="406.7" x2="198" y2="406.7" stroke="#111" stroke-width="1"/>
<text x="191.5" y="409.8" font-size="8.7" text-anchor="end" fill="#222" font-weight="normal" >0</text>
<line x1="195" y1="381.5333333333333" x2="198" y2="381.5333333333333" stroke="#111" stroke-width="1"/>
<text x="191.5" y="384.6333333333333" font-size="8.7" text-anchor="end" fill="#222" font-weight="normal" >1.0×10<tspan font-size="5" dy="-3.2">7</tspan></text>
<line x1="195" y1="356.3666666666667" x2="198" y2="356.3666666666667" stroke="#111" stroke-width="1"/>
<text x="191.5" y="359.4666666666667" font-size="8.7" text-anchor="end" fill="#222" font-weight="normal" >2.0×10<tspan font-size="5" dy="-3.2">7</tspan></text>
<line x1="195" y1="331.2" x2="198" y2="331.2" stroke="#111" stroke-width="1"/>
<text x="191.5" y="334.3" font-size="8.7" text-anchor="end" fill="#222" font-weight="normal" >3.0×10<tspan font-size="5" dy="-3.2">7</tspan></text>
<line x1="205.1" y1="406.7" x2="205.1" y2="409.2" stroke="#111" stroke-width="1"/>
<text transform="translate(208.9,418.7) rotate(-45)" font-size="8.6" text-anchor="end" fill="#333" >Y</text>
<line x1="218" y1="406.7" x2="218" y2="409.2" stroke="#111" stroke-width="1"/>
<text transform="translate(221.8,418.7) rotate(-45)" font-size="8.6" text-anchor="end" fill="#333" >O</text>
<line x1="230.8" y1="406.7" x2="230.8" y2="409.2" stroke="#111" stroke-width="1"/>
<text transform="translate(234.60000000000002,418.7) rotate(-45)" font-size="8.6" text-anchor="end" fill="#333" >DY</text>
<line x1="243.2" y1="406.7" x2="243.2" y2="409.2" stroke="#111" stroke-width="1"/>
<text transform="translate(247.0,418.7) rotate(-45)" font-size="8.6" text-anchor="end" fill="#333" >DO</text>
<line x1="230.4" y1="364.8" x2="242.5" y2="364.8" stroke="#222" stroke-width="1.2"/>
<text x="236.45" y="365.03000000000003" font-size="9" font-weight="bold" text-anchor="middle" letter-spacing="0" fill="#111">****</text>
<use href="#smouse" transform="translate(200.2,329.3) scale(0.7470588235294118)" />
<use href="#smouse" transform="translate(225.6,354.4) scale(0.7058823529411765)" />
<use href="#syr" transform="translate(225.6,344.235294117647) rotate(45) scale(0.6620095685164458)" />
<text transform="translate(146.2,369) rotate(-90)" font-size="8.6" text-anchor="middle" fill="#222"  textLength="69.7" lengthAdjust="spacingAndGlyphs">Absolute number of</text>
<text transform="translate(157.1,369.3) rotate(-90)" font-size="8.6" text-anchor="middle" fill="#222"  textLength="76.4" lengthAdjust="spacingAndGlyphs">CD19<tspan font-size="5.5" dy="-3.2">+</tspan><tspan dy="3.2"> B cells / spleen</tspan></text>
<line x1="327.95" y1="337.07800000000003" x2="327.95" y2="347.038" stroke="#6b091c" stroke-width="1.3"/>
<line x1="325.25" y1="337.07800000000003" x2="330.65" y2="337.07800000000003" stroke="#6b091c" stroke-width="1.4"/>
<rect x="322.9" y="347.038" width="10.100000000000023" height="59.262" fill="#b3102f"/>
<line x1="340.75" y1="350.026" x2="340.75" y2="365.464" stroke="#192c51" stroke-width="1.3"/>
<line x1="338.05" y1="350.026" x2="343.45" y2="350.026" stroke="#192c51" stroke-width="1.4"/>
<rect x="336" y="365.464" width="9.5" height="40.83600000000001" fill="#2b4a87"/>
<line x1="353.25" y1="378.91" x2="353.25" y2="381.898" stroke="#3f6624" stroke-width="1.3"/>
<line x1="350.55" y1="378.91" x2="355.95" y2="378.91" stroke="#3f6624" stroke-width="1.4"/>
<rect x="348.3" y="381.898" width="9.899999999999977" height="24.401999999999987" fill="#6aaa3c"/>
<line x1="366.0" y1="394.348" x2="366.0" y2="395.842" stroke="#2c133e" stroke-width="1.3"/>
<line x1="363.3" y1="394.348" x2="368.7" y2="394.348" stroke="#2c133e" stroke-width="1.4"/>
<rect x="361" y="395.842" width="10" height="10.458000000000027" fill="#4a2168"/>
<line x1="321.4" y1="331.1" x2="321.4" y2="406.3" stroke="#111" stroke-width="1.6"/>
<line x1="320.59999999999997" y1="406.3" x2="373" y2="406.3" stroke="#111" stroke-width="1.6"/>
<line x1="318.4" y1="406.3" x2="321.4" y2="406.3" stroke="#111" stroke-width="1"/>
<text x="314.9" y="409.40000000000003" font-size="8.7" text-anchor="end" fill="#222" font-weight="normal" >0</text>
<line x1="318.4" y1="381.40000000000003" x2="321.4" y2="381.40000000000003" stroke="#111" stroke-width="1"/>
<text x="314.9" y="384.50000000000006" font-size="8.7" text-anchor="end" fill="#222" font-weight="normal" >5.0×10<tspan font-size="5" dy="-3.2">6</tspan></text>
<line x1="318.4" y1="356.5" x2="321.4" y2="356.5" stroke="#111" stroke-width="1"/>
<text x="314.9" y="359.6" font-size="8.7" text-anchor="end" fill="#222" font-weight="normal" >1.0×10<tspan font-size="5" dy="-3.2">7</tspan></text>
<line x1="318.4" y1="331.6" x2="321.4" y2="331.6" stroke="#111" stroke-width="1"/>
<text x="314.9" y="334.70000000000005" font-size="8.7" text-anchor="end" fill="#222" font-weight="normal" >1.5×10<tspan font-size="5" dy="-3.2">7</tspan></text>
<line x1="328" y1="406.3" x2="328" y2="408.8" stroke="#111" stroke-width="1"/>
<text transform="translate(331.8,418.3) rotate(-45)" font-size="8.6" text-anchor="end" fill="#333" >Y</text>
<line x1="340.8" y1="406.3" x2="340.8" y2="408.8" stroke="#111" stroke-width="1"/>
<text transform="translate(344.6,418.3) rotate(-45)" font-size="8.6" text-anchor="end" fill="#333" >O</text>
<line x1="353.2" y1="406.3" x2="353.2" y2="408.8" stroke="#111" stroke-width="1"/>
<text transform="translate(357.0,418.3) rotate(-45)" font-size="8.6" text-anchor="end" fill="#333" >DY</text>
<line x1="366" y1="406.3" x2="366" y2="408.8" stroke="#111" stroke-width="1"/>
<text transform="translate(369.8,418.3) rotate(-45)" font-size="8.6" text-anchor="end" fill="#333" >DO</text>
<line x1="351.5" y1="375" x2="366.3" y2="375" stroke="#222" stroke-width="1.2"/>
<text x="358.9" y="375.23" font-size="9" font-weight="bold" text-anchor="middle" letter-spacing="0" fill="#111">****</text>
<use href="#smouse" transform="translate(323,331.5) scale(0.7470588235294118)" />
<use href="#smouse" transform="translate(349.5,365.5) scale(0.7058823529411765)" />
<use href="#syr" transform="translate(349.5,355.33529411764704) rotate(45) scale(0.6620095685164458)" />
<text transform="translate(269.2,369) rotate(-90)" font-size="8.6" text-anchor="middle" fill="#222"  textLength="69.2" lengthAdjust="spacingAndGlyphs">Absolute number of</text>
<text transform="translate(279,368.3) rotate(-90)" font-size="8.6" text-anchor="middle" fill="#222"  textLength="92.5" lengthAdjust="spacingAndGlyphs">CD3<tspan font-size="5.5" dy="-3.2">+</tspan><tspan dy="3.2">CD4</tspan><tspan font-size="5.5" dy="-3.2">+</tspan><tspan dy="3.2"> T cells / spleen</tspan></text>
<line x1="453.65" y1="347.0" x2="453.65" y2="358.5" stroke="#6b091c" stroke-width="1.3"/>
<line x1="450.95" y1="347.0" x2="456.34999999999997" y2="347.0" stroke="#6b091c" stroke-width="1.4"/>
<rect x="448.5" y="358.5" width="10.300000000000011" height="47.5" fill="#b3102f"/>
<line x1="466.6" y1="372.5" x2="466.6" y2="382.0" stroke="#192c51" stroke-width="1.3"/>
<line x1="463.90000000000003" y1="372.5" x2="469.3" y2="372.5" stroke="#192c51" stroke-width="1.4"/>
<rect x="461.7" y="382.0" width="9.800000000000011" height="24.0" fill="#2b4a87"/>
<line x1="479.45" y1="393.5" x2="479.45" y2="394.5" stroke="#3f6624" stroke-width="1.3"/>
<line x1="476.75" y1="393.5" x2="482.15" y2="393.5" stroke="#3f6624" stroke-width="1.4"/>
<rect x="474.4" y="394.5" width="10.100000000000023" height="11.5" fill="#6aaa3c"/>
<line x1="491.9" y1="397.5" x2="491.9" y2="399.5" stroke="#2c133e" stroke-width="1.3"/>
<line x1="489.2" y1="397.5" x2="494.59999999999997" y2="397.5" stroke="#2c133e" stroke-width="1.4"/>
<rect x="486.8" y="399.5" width="10.199999999999989" height="6.5" fill="#4a2168"/>
<line x1="447.3" y1="330.5" x2="447.3" y2="406" stroke="#111" stroke-width="1.6"/>
<line x1="446.5" y1="406" x2="498.5" y2="406" stroke="#111" stroke-width="1.6"/>
<line x1="444.3" y1="406.0" x2="447.3" y2="406.0" stroke="#111" stroke-width="1"/>
<text x="440.8" y="409.1" font-size="8.7" text-anchor="end" fill="#222" font-weight="normal" >0</text>
<line x1="444.3" y1="381.0" x2="447.3" y2="381.0" stroke="#111" stroke-width="1"/>
<text x="440.8" y="384.1" font-size="8.7" text-anchor="end" fill="#222" font-weight="normal" >5.0×10<tspan font-size="5" dy="-3.2">6</tspan></text>
<line x1="444.3" y1="356.0" x2="447.3" y2="356.0" stroke="#111" stroke-width="1"/>
<text x="440.8" y="359.1" font-size="8.7" text-anchor="end" fill="#222" font-weight="normal" >1.0×10<tspan font-size="5" dy="-3.2">7</tspan></text>
<line x1="444.3" y1="331.0" x2="447.3" y2="331.0" stroke="#111" stroke-width="1"/>
<text x="440.8" y="334.1" font-size="8.7" text-anchor="end" fill="#222" font-weight="normal" >1.5×10<tspan font-size="5" dy="-3.2">7</tspan></text>
<line x1="453.6" y1="406" x2="453.6" y2="408.5" stroke="#111" stroke-width="1"/>
<text transform="translate(457.40000000000003,418) rotate(-45)" font-size="8.6" text-anchor="end" fill="#333" >Y</text>
<line x1="466.6" y1="406" x2="466.6" y2="408.5" stroke="#111" stroke-width="1"/>
<text transform="translate(470.40000000000003,418) rotate(-45)" font-size="8.6" text-anchor="end" fill="#333" >O</text>
<line x1="479.4" y1="406" x2="479.4" y2="408.5" stroke="#111" stroke-width="1"/>
<text transform="translate(483.2,418) rotate(-45)" font-size="8.6" text-anchor="end" fill="#333" >DY</text>
<line x1="492" y1="406" x2="492" y2="408.5" stroke="#111" stroke-width="1"/>
<text transform="translate(495.8,418) rotate(-45)" font-size="8.6" text-anchor="end" fill="#333" >DO</text>
<line x1="479.5" y1="391.5" x2="492" y2="391.5" stroke="#222" stroke-width="1.2"/>
<text x="485.75" y="391.73" font-size="9" font-weight="bold" text-anchor="middle" letter-spacing="0" fill="#111">*</text>
<use href="#smouse" transform="translate(449,343) scale(0.7470588235294118)" />
<use href="#smouse" transform="translate(476.3,380.3) scale(0.6617647058823529)" />
<use href="#syr" transform="translate(476.3,370.77058823529416) rotate(45) scale(0.6206339704841678)" />
<text transform="translate(396.2,367.5) rotate(-90)" font-size="8.6" text-anchor="middle" fill="#222"  textLength="69.2" lengthAdjust="spacingAndGlyphs">Absolute number of</text>
<text transform="translate(406.3,367.1) rotate(-90)" font-size="8.6" text-anchor="middle" fill="#222"  textLength="91.8" lengthAdjust="spacingAndGlyphs">CD3<tspan font-size="5.5" dy="-3.2">+</tspan><tspan dy="3.2">CD8</tspan><tspan font-size="5.5" dy="-3.2">+</tspan><tspan dy="3.2"> T cells / spleen</tspan></text>
<text x="58" y="451.6" font-size="10.2" text-anchor="start" fill="#111" font-weight="bold" stroke="#111" stroke-width="0.45">E</text>
<text x="89" y="464.3" font-size="8.2" text-anchor="middle" fill="#222" font-weight="normal" ><tspan font-style="italic">RAG1</tspan><tspan font-size="5" dy="-3">-/-</tspan></text>
<rect x="67.5" y="469.3" width="44.5" height="46.5" fill="url(#grid)" transform="translate(0,0)"/>
<ellipse cx="89.8" cy="488" rx="6.3" ry="5.8" fill="url(#thy1)"/>
<line x1="77" y1="518.3" x2="107" y2="518.3" stroke="#111" stroke-width="1.8"/>
<text x="92" y="527.5" font-size="8.2" text-anchor="middle" fill="#222" font-weight="normal" >10 mm</text>
<text x="133.5" y="489.2" font-size="8.2" text-anchor="middle" fill="#222" font-weight="normal" >HSC</text>
<text x="133.5" y="503.3" font-size="8.2" text-anchor="middle" fill="#222" font-weight="normal" >transfer</text>
<line x1="117" y1="492" x2="147" y2="492" stroke="#111" stroke-width="1.2"/>
<path d="M145,489.3 L151,492 L145,494.7Z" fill="#111"/>
<rect x="158" y="470" width="99" height="46.3" fill="url(#grid2)"/>
<ellipse cx="179.5" cy="488.5" rx="10.8" ry="10" fill="url(#thy2)"/>
<ellipse cx="236" cy="490.3" rx="7.8" ry="6.8" fill="url(#thy3)"/>
<circle cx="181" cy="494" r="1" fill="#a02030"/>
<text x="179" y="465.5" font-size="8.2" text-anchor="middle" fill="#222" font-weight="normal" >DY</text>
<text x="236" y="466.3" font-size="8.2" text-anchor="middle" fill="#222" font-weight="normal" >DO</text>
<use href="#smouse" transform="translate(192,459) scale(0.9117647058823529)" />
<use href="#syr" transform="translate(192,445.8705882352941) rotate(45) scale(0.8550956926670757)" />
<line x1="220.8" y1="518.3" x2="251.3" y2="518.3" stroke="#111" stroke-width="1.8"/>
<text x="236" y="527.5" font-size="8.2" text-anchor="middle" fill="#222" font-weight="normal" >10 mm</text>
<text x="302.7" y="496.2" font-size="10.2" text-anchor="start" fill="#111" font-weight="bold" stroke="#111" stroke-width="0.45">F</text>
<use href="#smouse" transform="translate(353.5,493.5) scale(0.8823529411764706)" />
<line x1="355.45000000000005" y1="519.452" x2="355.45000000000005" y2="521.3" stroke="#6b091c" stroke-width="1.3"/>
<line x1="350.57800000000003" y1="519.452" x2="360.32200000000006" y2="519.452" stroke="#6b091c" stroke-width="1.4"/>
<rect x="345.3" y="521.3" width="20.30000000000001" height="60.90000000000009" fill="#b3102f"/>
<line x1="380.75" y1="559.52" x2="380.75" y2="565.82" stroke="#192c51" stroke-width="1.3"/>
<line x1="375.878" y1="559.52" x2="385.622" y2="559.52" stroke="#192c51" stroke-width="1.4"/>
<rect x="370.6" y="565.82" width="20.299999999999955" height="16.379999999999995" fill="#2b4a87"/>
<line x1="342.8" y1="514.5" x2="342.8" y2="582.2" stroke="#111" stroke-width="1.6"/>
<line x1="342.0" y1="582.2" x2="392.7" y2="582.2" stroke="#111" stroke-width="1.6"/>
<line x1="339.8" y1="582.2" x2="342.8" y2="582.2" stroke="#111" stroke-width="1"/>
<text x="336.3" y="585.3000000000001" font-size="8.8" text-anchor="end" fill="#222" font-weight="normal" >0</text>
<line x1="339.8" y1="565.4000000000001" x2="342.8" y2="565.4000000000001" stroke="#111" stroke-width="1"/>
<text x="336.3" y="568.5000000000001" font-size="8.8" text-anchor="end" fill="#222" font-weight="normal" >20</text>
<line x1="339.8" y1="548.6" x2="342.8" y2="548.6" stroke="#111" stroke-width="1"/>
<text x="336.3" y="551.7" font-size="8.8" text-anchor="end" fill="#222" font-weight="normal" >40</text>
<line x1="339.8" y1="531.8" x2="342.8" y2="531.8" stroke="#111" stroke-width="1"/>
<text x="336.3" y="534.9" font-size="8.8" text-anchor="end" fill="#222" font-weight="normal" >60</text>
<line x1="339.8" y1="515.0" x2="342.8" y2="515.0" stroke="#111" stroke-width="1"/>
<text x="336.3" y="518.1" font-size="8.8" text-anchor="end" fill="#222" font-weight="normal" >80</text>
<line x1="355.5" y1="582.2" x2="355.5" y2="584.7" stroke="#111" stroke-width="1"/>
<text transform="translate(358.7,588.2) rotate(-90)" font-size="8.8" text-anchor="end" fill="#333" >Y</text>
<line x1="380.7" y1="582.2" x2="380.7" y2="584.7" stroke="#111" stroke-width="1"/>
<text transform="translate(383.9,588.2) rotate(-90)" font-size="8.8" text-anchor="end" fill="#333" >O</text>
<line x1="355.8" y1="516.2" x2="381.2" y2="516.2" stroke="#222" stroke-width="1.2"/>
<text x="368.5" y="516.4300000000001" font-size="9.0" font-weight="bold" text-anchor="middle" letter-spacing="0" fill="#111">***</text>
<text transform="translate(320,547.7) rotate(-90)" font-size="9" text-anchor="middle" fill="#222"  textLength="70.5" lengthAdjust="spacingAndGlyphs">Thymus weight (mg)</text>
<use href="#smouse" transform="translate(427,495) scale(0.8529411764705882)" />
<use href="#syr" transform="translate(427,482.71764705882356) rotate(45) scale(0.7999282286240387)" />
<line x1="425.6" y1="563.45" x2="425.6" y2="565.25" stroke="#8d5713" stroke-width="1.3"/>
<line x1="422.336" y1="563.45" x2="428.86400000000003" y2="563.45" stroke="#8d5713" stroke-width="1.4"/>
<rect x="418.8" y="565.25" width="13.599999999999966" height="16.950000000000045" fill="#ec9221"/>
<line x1="442.54999999999995" y1="524.0" x2="442.54999999999995" y2="529.7" stroke="#3f6624" stroke-width="1.3"/>
<line x1="439.35799999999995" y1="524.0" x2="445.74199999999996" y2="524.0" stroke="#3f6624" stroke-width="1.4"/>
<rect x="435.9" y="529.7" width="13.300000000000011" height="52.5" fill="#6aaa3c"/>
<line x1="459.5" y1="548.45" x2="459.5" y2="551.9" stroke="#2c133e" stroke-width="1.3"/>
<line x1="456.284" y1="548.45" x2="462.716" y2="548.45" stroke="#2c133e" stroke-width="1.4"/>
<rect x="452.8" y="551.9" width="13.399999999999977" height="30.300000000000068" fill="#4a2168"/>
<line x1="417" y1="506.7" x2="417" y2="582.2" stroke="#111" stroke-width="1.6"/>
<line x1="416.2" y1="582.2" x2="468" y2="582.2" stroke="#111" stroke-width="1.6"/>
<line x1="414" y1="582.2" x2="417" y2="582.2" stroke="#111" stroke-width="1"/>
<text x="410.5" y="585.3000000000001" font-size="8.8" text-anchor="end" fill="#222" font-weight="normal" >0</text>
<line x1="414" y1="567.2" x2="417" y2="567.2" stroke="#111" stroke-width="1"/>
<text x="410.5" y="570.3000000000001" font-size="8.8" text-anchor="end" fill="#222" font-weight="normal" >10</text>
<line x1="414" y1="552.2" x2="417" y2="552.2" stroke="#111" stroke-width="1"/>
<text x="410.5" y="555.3000000000001" font-size="8.8" text-anchor="end" fill="#222" font-weight="normal" >20</text>
<line x1="414" y1="537.2" x2="417" y2="537.2" stroke="#111" stroke-width="1"/>
<text x="410.5" y="540.3000000000001" font-size="8.8" text-anchor="end" fill="#222" font-weight="normal" >30</text>
<line x1="414" y1="522.2" x2="417" y2="522.2" stroke="#111" stroke-width="1"/>
<text x="410.5" y="525.3000000000001" font-size="8.8" text-anchor="end" fill="#222" font-weight="normal" >40</text>
<line x1="414" y1="507.2" x2="417" y2="507.2" stroke="#111" stroke-width="1"/>
<text x="410.5" y="510.3" font-size="8.8" text-anchor="end" fill="#222" font-weight="normal" >50</text>
<line x1="425.6" y1="582.2" x2="425.6" y2="584.7" stroke="#111" stroke-width="1"/>
<text transform="translate(430.90000000000003,593.7) rotate(-58)" font-size="8.8" text-anchor="end" fill="#333" >RAG1<tspan font-size="5.5" dy="-3">-/-</tspan></text>
<line x1="442.5" y1="582.2" x2="442.5" y2="584.7" stroke="#111" stroke-width="1"/>
<text transform="translate(447.8,591.2) rotate(-58)" font-size="8.8" text-anchor="end" fill="#333" >DY</text>
<line x1="459.5" y1="582.2" x2="459.5" y2="584.7" stroke="#111" stroke-width="1"/>
<text transform="translate(464.8,590.7) rotate(-58)" font-size="8.8" text-anchor="end" fill="#333" >DO</text>
<line x1="425" y1="518" x2="442.7" y2="518" stroke="#222" stroke-width="1.2"/>
<text x="433.85" y="518.23" font-size="9.0" font-weight="bold" text-anchor="middle" letter-spacing="0" fill="#111">***</text>
<line x1="442.7" y1="522.2" x2="459.5" y2="522.2" stroke="#222" stroke-width="1.2"/>
<text x="451.1" y="522.4300000000001" font-size="9.0" font-weight="bold" text-anchor="middle" letter-spacing="0" fill="#111">**</text>
<text x="11.3" y="545.5" font-size="10.2" text-anchor="start" fill="#111" font-weight="bold" stroke="#111" stroke-width="0.45">G</text>
<line x1="26" y1="546.5" x2="287" y2="546.5" stroke="#111" stroke-width="1.1"/>
<text x="158" y="542" font-size="8.2" text-anchor="middle" fill="#222" font-weight="normal" >gate: lymphocytes</text>
<rect x="45.5" y="571.8" width="62.900000000000006" height="65.5" fill="#fff" stroke="#222" stroke-width="0.9"/>
<circle cx="54.1" cy="602.0" r="0.5" fill="#b8b8b8"/>
<circle cx="58.1" cy="603.3" r="0.5" fill="#b8b8b8"/>
<circle cx="65.8" cy="591.4" r="0.5" fill="#b8b8b8"/>
<circle cx="47.4" cy="608.4" r="0.5" fill="#b8b8b8"/>
<circle cx="54.8" cy="595.2" r="0.5" fill="#b8b8b8"/>
<circle cx="76.9" cy="600.3" r="0.5" fill="#b8b8b8"/>
<circle cx="72.1" cy="600.5" r="0.5" fill="#b8b8b8"/>
<circle cx="66.2" cy="593.3" r="0.5" fill="#b8b8b8"/>
<circle cx="66.0" cy="609.1" r="0.5" fill="#b8b8b8"/>
<circle cx="62.7" cy="606.3" r="0.5" fill="#b8b8b8"/>
<circle cx="67.1" cy="591.4" r="0.5" fill="#b8b8b8"/>
<circle cx="69.7" cy="603.0" r="0.5" fill="#b8b8b8"/>
<circle cx="56.0" cy="590.7" r="0.5" fill="#b8b8b8"/>
<circle cx="73.0" cy="600.4" r="0.5" fill="#b8b8b8"/>
<circle cx="68.6" cy="609.3" r="0.5" fill="#b8b8b8"/>
<circle cx="68.4" cy="610.3" r="0.5" fill="#b8b8b8"/>
<circle cx="58.8" cy="607.6" r="0.5" fill="#b8b8b8"/>
<circle cx="60.3" cy="610.6" r="0.5" fill="#b8b8b8"/>
<circle cx="73.4" cy="592.1" r="0.5" fill="#b8b8b8"/>
<circle cx="51.1" cy="594.8" r="0.5" fill="#b8b8b8"/>
<circle cx="76.0" cy="599.6" r="0.5" fill="#b8b8b8"/>
<circle cx="65.8" cy="596.6" r="0.5" fill="#b8b8b8"/>
<circle cx="62.2" cy="598.5" r="0.5" fill="#b8b8b8"/>
<circle cx="57.5" cy="602.9" r="0.5" fill="#b8b8b8"/>
<circle cx="64.5" cy="609.9" r="0.5" fill="#b8b8b8"/>
<circle cx="67.5" cy="610.4" r="0.5" fill="#b8b8b8"/>
<circle cx="72.7" cy="611.8" r="0.5" fill="#b8b8b8"/>
<circle cx="67.1" cy="593.6" r="0.5" fill="#b8b8b8"/>
<circle cx="72.8" cy="611.2" r="0.5" fill="#b8b8b8"/>
<circle cx="74.1" cy="602.5" r="0.5" fill="#b8b8b8"/>
<circle cx="68.4" cy="594.6" r="0.5" fill="#b8b8b8"/>
<circle cx="71.9" cy="602.6" r="0.5" fill="#b8b8b8"/>
<circle cx="55.5" cy="591.4" r="0.5" fill="#b8b8b8"/>
<circle cx="72.6" cy="611.8" r="0.5" fill="#b8b8b8"/>
<circle cx="49.7" cy="607.6" r="0.5" fill="#b8b8b8"/>
<circle cx="59.3" cy="593.3" r="0.5" fill="#b8b8b8"/>
<circle cx="55.8" cy="606.9" r="0.5" fill="#b8b8b8"/>
<circle cx="73.2" cy="591.0" r="0.5" fill="#b8b8b8"/>
<circle cx="65.4" cy="591.0" r="0.5" fill="#b8b8b8"/>
<circle cx="68.6" cy="597.3" r="0.5" fill="#b8b8b8"/>
<circle cx="73.4" cy="611.6" r="0.5" fill="#b8b8b8"/>
<circle cx="62.2" cy="612.0" r="0.5" fill="#b8b8b8"/>
<circle cx="56.3" cy="591.7" r="0.5" fill="#b8b8b8"/>
<circle cx="65.0" cy="590.7" r="0.5" fill="#b8b8b8"/>
<circle cx="52.9" cy="599.0" r="0.5" fill="#b8b8b8"/>
<circle cx="65.3" cy="593.4" r="0.5" fill="#b8b8b8"/>
<circle cx="48.3" cy="609.1" r="0.5" fill="#b8b8b8"/>
<circle cx="56.4" cy="611.1" r="0.5" fill="#b8b8b8"/>
<circle cx="73.9" cy="598.3" r="0.5" fill="#b8b8b8"/>
<circle cx="60.8" cy="601.4" r="0.5" fill="#b8b8b8"/>
<circle cx="66.3" cy="603.1" r="0.5" fill="#b8b8b8"/>
<circle cx="63.8" cy="603.6" r="0.5" fill="#b8b8b8"/>
<circle cx="75.2" cy="601.2" r="0.5" fill="#b8b8b8"/>
<circle cx="59.9" cy="605.8" r="0.5" fill="#b8b8b8"/>
<circle cx="54.1" cy="596.6" r="0.5" fill="#b8b8b8"/>
<circle cx="76.3" cy="601.5" r="0.5" fill="#b8b8b8"/>
<circle cx="63.5" cy="590.3" r="0.5" fill="#b8b8b8"/>
<circle cx="59.5" cy="602.8" r="0.5" fill="#b8b8b8"/>
<circle cx="47.6" cy="603.5" r="0.5" fill="#b8b8b8"/>
<circle cx="66.0" cy="591.3" r="0.5" fill="#b8b8b8"/>
<circle cx="65.8" cy="600.3" r="0.5" fill="#b8b8b8"/>
<circle cx="67.4" cy="597.8" r="0.5" fill="#b8b8b8"/>
<circle cx="68.2" cy="606.2" r="0.5" fill="#b8b8b8"/>
<circle cx="47.7" cy="591.3" r="0.5" fill="#b8b8b8"/>
<circle cx="67.3" cy="611.2" r="0.5" fill="#b8b8b8"/>
<circle cx="54.5" cy="600.0" r="0.5" fill="#b8b8b8"/>
<circle cx="64.8" cy="597.0" r="0.5" fill="#b8b8b8"/>
<circle cx="57.9" cy="596.9" r="0.5" fill="#b8b8b8"/>
<circle cx="58.1" cy="603.1" r="0.5" fill="#b8b8b8"/>
<circle cx="56.0" cy="598.3" r="0.5" fill="#b8b8b8"/>
<circle cx="70.2" cy="590.6" r="0.5" fill="#b8b8b8"/>
<circle cx="64.1" cy="606.2" r="0.5" fill="#b8b8b8"/>
<circle cx="56.3" cy="594.9" r="0.5" fill="#b8b8b8"/>
<circle cx="71.1" cy="595.3" r="0.5" fill="#b8b8b8"/>
<circle cx="52.6" cy="599.6" r="0.5" fill="#b8b8b8"/>
<circle cx="67.9" cy="592.2" r="0.5" fill="#b8b8b8"/>
<circle cx="56.7" cy="597.3" r="0.5" fill="#b8b8b8"/>
<circle cx="72.0" cy="599.6" r="0.5" fill="#b8b8b8"/>
<circle cx="72.7" cy="593.7" r="0.5" fill="#b8b8b8"/>
<circle cx="57.1" cy="604.3" r="0.5" fill="#b8b8b8"/>
<circle cx="73.5" cy="599.9" r="0.5" fill="#b8b8b8"/>
<circle cx="53.8" cy="592.7" r="0.5" fill="#b8b8b8"/>
<circle cx="62.9" cy="594.2" r="0.5" fill="#b8b8b8"/>
<circle cx="71.2" cy="608.4" r="0.5" fill="#b8b8b8"/>
<circle cx="52.5" cy="596.1" r="0.5" fill="#b8b8b8"/>
<circle cx="71.2" cy="604.1" r="0.5" fill="#b8b8b8"/>
<circle cx="71.2" cy="597.6" r="0.5" fill="#b8b8b8"/>
<circle cx="50.9" cy="596.4" r="0.5" fill="#b8b8b8"/>
<circle cx="70.8" cy="596.0" r="0.5" fill="#b8b8b8"/>
<circle cx="57.4" cy="599.2" r="0.5" fill="#b8b8b8"/>
<circle cx="59.6" cy="581.4" r="0.5" fill="#c8c8c8"/>
<circle cx="74.6" cy="576.8" r="0.5" fill="#c8c8c8"/>
<circle cx="47.1" cy="591.0" r="0.5" fill="#c8c8c8"/>
<circle cx="73.4" cy="591.8" r="0.5" fill="#c8c8c8"/>
<circle cx="60.0" cy="591.1" r="0.5" fill="#c8c8c8"/>
<circle cx="74.8" cy="578.0" r="0.5" fill="#c8c8c8"/>
<circle cx="69.4" cy="589.1" r="0.5" fill="#c8c8c8"/>
<circle cx="66.9" cy="583.3" r="0.5" fill="#c8c8c8"/>
<circle cx="55.7" cy="580.1" r="0.5" fill="#c8c8c8"/>
<circle cx="53.8" cy="575.2" r="0.5" fill="#c8c8c8"/>
<circle cx="64.7" cy="579.2" r="0.5" fill="#c8c8c8"/>
<circle cx="71.3" cy="574.8" r="0.5" fill="#c8c8c8"/>
<circle cx="74.1" cy="586.5" r="0.5" fill="#c8c8c8"/>
<circle cx="74.7" cy="590.1" r="0.5" fill="#c8c8c8"/>
<circle cx="74.0" cy="584.4" r="0.5" fill="#c8c8c8"/>
<circle cx="47.4" cy="587.4" r="0.5" fill="#c8c8c8"/>
<circle cx="52.2" cy="579.4" r="0.5" fill="#c8c8c8"/>
<circle cx="66.9" cy="583.4" r="0.5" fill="#c8c8c8"/>
<circle cx="59.4" cy="590.9" r="0.5" fill="#c8c8c8"/>
<circle cx="65.4" cy="580.1" r="0.5" fill="#c8c8c8"/>
<circle cx="54.6" cy="589.5" r="0.5" fill="#c8c8c8"/>
<circle cx="61.3" cy="588.1" r="0.5" fill="#c8c8c8"/>
<circle cx="57.6" cy="577.6" r="0.5" fill="#c8c8c8"/>
<circle cx="63.0" cy="588.7" r="0.5" fill="#c8c8c8"/>
<circle cx="52.1" cy="588.3" r="0.5" fill="#c8c8c8"/>
<circle cx="74.7" cy="588.5" r="0.5" fill="#c8c8c8"/>
<circle cx="71.7" cy="574.1" r="0.5" fill="#c8c8c8"/>
<circle cx="65.9" cy="589.5" r="0.5" fill="#c8c8c8"/>
<circle cx="48.5" cy="578.9" r="0.5" fill="#c8c8c8"/>
<circle cx="55.1" cy="583.5" r="0.5" fill="#c8c8c8"/>
<circle cx="90.8" cy="624.4" r="0.5" fill="#b8b8b8"/>
<circle cx="100.7" cy="614.0" r="0.5" fill="#b8b8b8"/>
<circle cx="80.5" cy="616.8" r="0.5" fill="#b8b8b8"/>
<circle cx="82.5" cy="615.5" r="0.5" fill="#b8b8b8"/>
<circle cx="106.3" cy="632.8" r="0.5" fill="#b8b8b8"/>
<circle cx="81.4" cy="625.0" r="0.5" fill="#b8b8b8"/>
<circle cx="87.8" cy="620.9" r="0.5" fill="#b8b8b8"/>
<circle cx="88.8" cy="628.2" r="0.5" fill="#b8b8b8"/>
<circle cx="95.4" cy="621.9" r="0.5" fill="#b8b8b8"/>
<circle cx="84.4" cy="621.2" r="0.5" fill="#b8b8b8"/>
<circle cx="82.5" cy="626.2" r="0.5" fill="#b8b8b8"/>
<circle cx="99.0" cy="622.4" r="0.5" fill="#b8b8b8"/>
<circle cx="81.2" cy="617.9" r="0.5" fill="#b8b8b8"/>
<circle cx="89.5" cy="627.3" r="0.5" fill="#b8b8b8"/>
<circle cx="100.9" cy="622.4" r="0.5" fill="#b8b8b8"/>
<circle cx="101.4" cy="627.7" r="0.5" fill="#b8b8b8"/>
<circle cx="91.1" cy="622.2" r="0.5" fill="#b8b8b8"/>
<circle cx="92.9" cy="629.5" r="0.5" fill="#b8b8b8"/>
<circle cx="90.8" cy="629.3" r="0.5" fill="#b8b8b8"/>
<circle cx="91.9" cy="619.4" r="0.5" fill="#b8b8b8"/>
<circle cx="94.0" cy="629.3" r="0.5" fill="#b8b8b8"/>
<circle cx="81.0" cy="623.3" r="0.5" fill="#b8b8b8"/>
<circle cx="90.9" cy="633.4" r="0.5" fill="#b8b8b8"/>
<circle cx="105.2" cy="622.2" r="0.5" fill="#b8b8b8"/>
<circle cx="104.1" cy="631.4" r="0.5" fill="#b8b8b8"/>
<circle cx="86.3" cy="624.2" r="0.5" fill="#b8b8b8"/>
<circle cx="82.4" cy="631.9" r="0.5" fill="#b8b8b8"/>
<circle cx="97.5" cy="633.5" r="0.5" fill="#b8b8b8"/>
<circle cx="101.2" cy="628.7" r="0.5" fill="#b8b8b8"/>
<circle cx="99.5" cy="626.4" r="0.5" fill="#b8b8b8"/>
<circle cx="81.9" cy="626.9" r="0.5" fill="#b8b8b8"/>
<circle cx="79.1" cy="617.2" r="0.5" fill="#b8b8b8"/>
<circle cx="100.7" cy="615.0" r="0.5" fill="#b8b8b8"/>
<circle cx="81.6" cy="616.2" r="0.5" fill="#b8b8b8"/>
<circle cx="103.7" cy="617.9" r="0.5" fill="#b8b8b8"/>
<circle cx="79.7" cy="632.5" r="0.5" fill="#b8b8b8"/>
<circle cx="82.4" cy="632.6" r="0.5" fill="#b8b8b8"/>
<circle cx="97.9" cy="632.4" r="0.5" fill="#b8b8b8"/>
<circle cx="105.7" cy="626.7" r="0.5" fill="#b8b8b8"/>
<circle cx="101.4" cy="614.8" r="0.5" fill="#b8b8b8"/>
<circle cx="100.5" cy="625.2" r="0.5" fill="#b8b8b8"/>
<circle cx="99.0" cy="616.3" r="0.5" fill="#b8b8b8"/>
<circle cx="100.0" cy="634.6" r="0.5" fill="#b8b8b8"/>
<circle cx="80.7" cy="621.1" r="0.5" fill="#b8b8b8"/>
<circle cx="94.8" cy="632.2" r="0.5" fill="#b8b8b8"/>
<circle cx="85.8" cy="618.0" r="0.5" fill="#b8b8b8"/>
<circle cx="86.0" cy="627.6" r="0.5" fill="#b8b8b8"/>
<circle cx="100.1" cy="622.7" r="0.5" fill="#b8b8b8"/>
<circle cx="89.3" cy="622.7" r="0.5" fill="#b8b8b8"/>
<circle cx="88.8" cy="623.2" r="0.5" fill="#b8b8b8"/>
<circle cx="81.3" cy="625.0" r="0.5" fill="#b8b8b8"/>
<circle cx="106.2" cy="623.1" r="0.5" fill="#b8b8b8"/>
<circle cx="99.9" cy="617.5" r="0.5" fill="#b8b8b8"/>
<circle cx="98.3" cy="630.6" r="0.5" fill="#b8b8b8"/>
<circle cx="97.9" cy="625.4" r="0.5" fill="#b8b8b8"/>
<circle cx="92.5" cy="628.1" r="0.5" fill="#b8b8b8"/>
<circle cx="104.1" cy="617.3" r="0.5" fill="#b8b8b8"/>
<circle cx="81.7" cy="630.5" r="0.5" fill="#b8b8b8"/>
<circle cx="104.7" cy="625.4" r="0.5" fill="#b8b8b8"/>
<circle cx="91.4" cy="629.8" r="0.5" fill="#b8b8b8"/>
<circle cx="84.2" cy="619.9" r="0.5" fill="#b8b8b8"/>
<circle cx="84.6" cy="626.9" r="0.5" fill="#b8b8b8"/>
<circle cx="87.8" cy="619.1" r="0.5" fill="#b8b8b8"/>
<circle cx="98.4" cy="635.0" r="0.5" fill="#b8b8b8"/>
<circle cx="87.3" cy="629.5" r="0.5" fill="#b8b8b8"/>
<circle cx="90.6" cy="632.8" r="0.5" fill="#b8b8b8"/>
<circle cx="95.4" cy="619.9" r="0.5" fill="#b8b8b8"/>
<circle cx="85.1" cy="614.5" r="0.5" fill="#b8b8b8"/>
<circle cx="92.4" cy="622.4" r="0.5" fill="#b8b8b8"/>
<circle cx="83.8" cy="621.9" r="0.5" fill="#b8b8b8"/>
<circle cx="88.0" cy="631.0" r="0.5" fill="#b8b8b8"/>
<circle cx="83.0" cy="635.8" r="0.5" fill="#b8b8b8"/>
<circle cx="92.4" cy="627.2" r="0.5" fill="#b8b8b8"/>
<circle cx="92.1" cy="632.4" r="0.5" fill="#b8b8b8"/>
<circle cx="102.0" cy="626.3" r="0.5" fill="#b8b8b8"/>
<circle cx="92.5" cy="629.9" r="0.5" fill="#b8b8b8"/>
<circle cx="103.0" cy="622.8" r="0.5" fill="#b8b8b8"/>
<circle cx="99.5" cy="635.1" r="0.5" fill="#b8b8b8"/>
<circle cx="92.1" cy="619.1" r="0.5" fill="#b8b8b8"/>
<circle cx="85.6" cy="629.8" r="0.5" fill="#b8b8b8"/>
<circle cx="97.9" cy="635.1" r="0.5" fill="#b8b8b8"/>
<circle cx="102.9" cy="619.3" r="0.5" fill="#b8b8b8"/>
<circle cx="84.3" cy="619.7" r="0.5" fill="#b8b8b8"/>
<circle cx="84.2" cy="629.5" r="0.5" fill="#b8b8b8"/>
<circle cx="103.0" cy="633.8" r="0.5" fill="#b8b8b8"/>
<circle cx="86.1" cy="633.0" r="0.5" fill="#b8b8b8"/>
<circle cx="87.8" cy="623.3" r="0.5" fill="#b8b8b8"/>
<circle cx="99.4" cy="615.9" r="0.5" fill="#b8b8b8"/>
<circle cx="81.6" cy="632.3" r="0.5" fill="#b8b8b8"/>
<circle cx="87.2" cy="621.8" r="0.5" fill="#b8b8b8"/>
<circle cx="95.2" cy="628.9" r="0.5" fill="#b8b8b8"/>
<circle cx="79.2" cy="621.4" r="0.5" fill="#b8b8b8"/>
<circle cx="91.2" cy="624.7" r="0.5" fill="#b8b8b8"/>
<circle cx="84.9" cy="626.9" r="0.5" fill="#b8b8b8"/>
<circle cx="105.7" cy="622.6" r="0.5" fill="#b8b8b8"/>
<circle cx="94.2" cy="616.6" r="0.5" fill="#b8b8b8"/>
<circle cx="86.7" cy="628.6" r="0.5" fill="#b8b8b8"/>
<circle cx="82.2" cy="633.5" r="0.5" fill="#b8b8b8"/>
<circle cx="104.4" cy="616.1" r="0.5" fill="#b8b8b8"/>
<circle cx="105.4" cy="622.2" r="0.5" fill="#b8b8b8"/>
<circle cx="100.6" cy="630.7" r="0.5" fill="#b8b8b8"/>
<circle cx="87.3" cy="628.9" r="0.5" fill="#b8b8b8"/>
<circle cx="97.3" cy="631.7" r="0.5" fill="#b8b8b8"/>
<circle cx="86.4" cy="630.6" r="0.5" fill="#b8b8b8"/>
<circle cx="105.9" cy="628.8" r="0.5" fill="#b8b8b8"/>
<circle cx="94.0" cy="616.5" r="0.5" fill="#b8b8b8"/>
<circle cx="92.8" cy="621.7" r="0.5" fill="#b8b8b8"/>
<circle cx="99.1" cy="628.9" r="0.5" fill="#b8b8b8"/>
<circle cx="94.9" cy="618.0" r="0.5" fill="#b8b8b8"/>
<circle cx="97.1" cy="627.9" r="0.5" fill="#b8b8b8"/>
<circle cx="83.2" cy="606.9" r="0.5" fill="#d0d0d0"/>
<circle cx="97.0" cy="578.6" r="0.5" fill="#d0d0d0"/>
<circle cx="105.0" cy="579.2" r="0.5" fill="#d0d0d0"/>
<circle cx="87.6" cy="600.7" r="0.5" fill="#d0d0d0"/>
<circle cx="95.3" cy="594.5" r="0.5" fill="#d0d0d0"/>
<circle cx="96.8" cy="590.9" r="0.5" fill="#d0d0d0"/>
<circle cx="87.1" cy="580.5" r="0.5" fill="#d0d0d0"/>
<circle cx="80.0" cy="600.5" r="0.5" fill="#d0d0d0"/>
<circle cx="99.9" cy="594.1" r="0.5" fill="#d0d0d0"/>
<circle cx="99.4" cy="587.3" r="0.5" fill="#d0d0d0"/>
<circle cx="85.7" cy="588.2" r="0.5" fill="#d0d0d0"/>
<circle cx="103.3" cy="575.6" r="0.5" fill="#d0d0d0"/>
<circle cx="92.6" cy="583.1" r="0.5" fill="#d0d0d0"/>
<circle cx="100.3" cy="587.1" r="0.5" fill="#d0d0d0"/>
<circle cx="61.3" cy="615.2" r="0.5" fill="#999"/>
<circle cx="67.2" cy="618.2" r="0.5" fill="#999"/>
<circle cx="61.9" cy="618.8" r="0.5" fill="#999"/>
<circle cx="55.1" cy="614.2" r="0.5" fill="#999"/>
<circle cx="54.8" cy="612.9" r="0.5" fill="#999"/>
<circle cx="73.8" cy="617.8" r="0.5" fill="#999"/>
<circle cx="57.2" cy="613.5" r="0.5" fill="#999"/>
<circle cx="63.7" cy="617.9" r="0.5" fill="#999"/>
<circle cx="74.8" cy="618.0" r="0.5" fill="#999"/>
<circle cx="68.6" cy="613.2" r="0.5" fill="#999"/>
<circle cx="63.2" cy="613.5" r="0.5" fill="#999"/>
<circle cx="66.8" cy="616.5" r="0.5" fill="#999"/>
<circle cx="57.7" cy="614.0" r="0.5" fill="#999"/>
<circle cx="73.9" cy="612.2" r="0.5" fill="#999"/>
<circle cx="74.5" cy="619.1" r="0.5" fill="#999"/>
<circle cx="78.6" cy="615.1" r="0.5" fill="#999"/>
<circle cx="67.5" cy="616.7" r="0.5" fill="#999"/>
<circle cx="69.7" cy="619.8" r="0.5" fill="#999"/>
<circle cx="71.2" cy="614.4" r="0.5" fill="#999"/>
<circle cx="76.1" cy="615.9" r="0.5" fill="#999"/>
<circle cx="68.8" cy="617.8" r="0.5" fill="#999"/>
<circle cx="52.1" cy="618.2" r="0.5" fill="#999"/>
<circle cx="70.5" cy="615.9" r="0.5" fill="#999"/>
<circle cx="66.7" cy="615.7" r="0.5" fill="#999"/>
<circle cx="57.4" cy="616.2" r="0.5" fill="#999"/>
<path d="M46.3,620.5 C52,617.5 60,616 66,616.2 C72,616.5 77,617.5 79.2,619.5 C79.6,622.5 78,626 76,628.5 C72,632.5 66,634.2 60,634.3 L46.3,634.3 Z" fill="#aaa" stroke="#1a1a1a" stroke-width="1.2"/>
<path d="M47.5,621.5 C53,619 60,618 66,618.2 C71,618.5 75,619.3 77,620.8 C77.3,623 76,626 74,628 C70,631.5 65,632.8 59,632.8 L47.5,632.8 Z" fill="#c4c4c4" stroke="#555" stroke-width="0.7"/>
<path d="M49,622.5 C54,620.5 61,620 67,620.3 C71,620.6 73.5,621.5 74.5,622.5 C74,625 72,627.5 69,629 C65,630.8 60,631.2 55,631 L49,630.8 Z" fill="#b4b4b4" stroke="#777" stroke-width="0.6"/>
<ellipse cx="62" cy="623.3" rx="7" ry="2.6" fill="#fafafa"/>
<line x1="77.4" y1="571.8" x2="77.4" y2="637.3" stroke="#999" stroke-width="0.8"/>
<line x1="45.5" y1="613.2" x2="108.4" y2="613.2" stroke="#999" stroke-width="0.8"/>
<line x1="45.5" y1="571.3" x2="45.5" y2="637.9" stroke="#111" stroke-width="1.4"/>
<line x1="44.9" y1="637.3" x2="108.9" y2="637.3" stroke="#111" stroke-width="1.4"/>
<line x1="45.50" y1="637.3" x2="45.50" y2="639.5" stroke="#111" stroke-width="0.6"/>
<line x1="43.3" y1="637.30" x2="45.5" y2="637.30" stroke="#111" stroke-width="0.6"/>
<line x1="50.23" y1="637.3" x2="50.23" y2="638.5" stroke="#111" stroke-width="0.6"/>
<line x1="44.3" y1="632.37" x2="45.5" y2="632.37" stroke="#111" stroke-width="0.6"/>
<line x1="53.00" y1="637.3" x2="53.00" y2="638.5" stroke="#111" stroke-width="0.6"/>
<line x1="44.3" y1="629.49" x2="45.5" y2="629.49" stroke="#111" stroke-width="0.6"/>
<line x1="54.97" y1="637.3" x2="54.97" y2="638.5" stroke="#111" stroke-width="0.6"/>
<line x1="44.3" y1="627.44" x2="45.5" y2="627.44" stroke="#111" stroke-width="0.6"/>
<line x1="56.49" y1="637.3" x2="56.49" y2="638.5" stroke="#111" stroke-width="0.6"/>
<line x1="44.3" y1="625.85" x2="45.5" y2="625.85" stroke="#111" stroke-width="0.6"/>
<line x1="57.74" y1="637.3" x2="57.74" y2="638.5" stroke="#111" stroke-width="0.6"/>
<line x1="44.3" y1="624.56" x2="45.5" y2="624.56" stroke="#111" stroke-width="0.6"/>
<line x1="58.79" y1="637.3" x2="58.79" y2="638.5" stroke="#111" stroke-width="0.6"/>
<line x1="44.3" y1="623.46" x2="45.5" y2="623.46" stroke="#111" stroke-width="0.6"/>
<line x1="59.70" y1="637.3" x2="59.70" y2="638.5" stroke="#111" stroke-width="0.6"/>
<line x1="44.3" y1="622.51" x2="45.5" y2="622.51" stroke="#111" stroke-width="0.6"/>
<line x1="60.51" y1="637.3" x2="60.51" y2="638.5" stroke="#111" stroke-width="0.6"/>
<line x1="44.3" y1="621.67" x2="45.5" y2="621.67" stroke="#111" stroke-width="0.6"/>
<line x1="61.23" y1="637.3" x2="61.23" y2="639.5" stroke="#111" stroke-width="0.6"/>
<line x1="43.3" y1="620.92" x2="45.5" y2="620.92" stroke="#111" stroke-width="0.6"/>
<line x1="65.96" y1="637.3" x2="65.96" y2="638.5" stroke="#111" stroke-width="0.6"/>
<line x1="44.3" y1="616.00" x2="45.5" y2="616.00" stroke="#111" stroke-width="0.6"/>
<line x1="68.73" y1="637.3" x2="68.73" y2="638.5" stroke="#111" stroke-width="0.6"/>
<line x1="44.3" y1="613.11" x2="45.5" y2="613.11" stroke="#111" stroke-width="0.6"/>
<line x1="70.69" y1="637.3" x2="70.69" y2="638.5" stroke="#111" stroke-width="0.6"/>
<line x1="44.3" y1="611.07" x2="45.5" y2="611.07" stroke="#111" stroke-width="0.6"/>
<line x1="72.22" y1="637.3" x2="72.22" y2="638.5" stroke="#111" stroke-width="0.6"/>
<line x1="44.3" y1="609.48" x2="45.5" y2="609.48" stroke="#111" stroke-width="0.6"/>
<line x1="73.46" y1="637.3" x2="73.46" y2="638.5" stroke="#111" stroke-width="0.6"/>
<line x1="44.3" y1="608.18" x2="45.5" y2="608.18" stroke="#111" stroke-width="0.6"/>
<line x1="74.51" y1="637.3" x2="74.51" y2="638.5" stroke="#111" stroke-width="0.6"/>
<line x1="44.3" y1="607.09" x2="45.5" y2="607.09" stroke="#111" stroke-width="0.6"/>
<line x1="75.43" y1="637.3" x2="75.43" y2="638.5" stroke="#111" stroke-width="0.6"/>
<line x1="44.3" y1="606.14" x2="45.5" y2="606.14" stroke="#111" stroke-width="0.6"/>
<line x1="76.23" y1="637.3" x2="76.23" y2="638.5" stroke="#111" stroke-width="0.6"/>
<line x1="44.3" y1="605.30" x2="45.5" y2="605.30" stroke="#111" stroke-width="0.6"/>
<line x1="76.95" y1="637.3" x2="76.95" y2="639.5" stroke="#111" stroke-width="0.6"/>
<line x1="43.3" y1="604.55" x2="45.5" y2="604.55" stroke="#111" stroke-width="0.6"/>
<line x1="81.68" y1="637.3" x2="81.68" y2="638.5" stroke="#111" stroke-width="0.6"/>
<line x1="44.3" y1="599.62" x2="45.5" y2="599.62" stroke="#111" stroke-width="0.6"/>
<line x1="84.45" y1="637.3" x2="84.45" y2="638.5" stroke="#111" stroke-width="0.6"/>
<line x1="44.3" y1="596.74" x2="45.5" y2="596.74" stroke="#111" stroke-width="0.6"/>
<line x1="86.42" y1="637.3" x2="86.42" y2="638.5" stroke="#111" stroke-width="0.6"/>
<line x1="44.3" y1="594.69" x2="45.5" y2="594.69" stroke="#111" stroke-width="0.6"/>
<line x1="87.94" y1="637.3" x2="87.94" y2="638.5" stroke="#111" stroke-width="0.6"/>
<line x1="44.3" y1="593.10" x2="45.5" y2="593.10" stroke="#111" stroke-width="0.6"/>
<line x1="89.19" y1="637.3" x2="89.19" y2="638.5" stroke="#111" stroke-width="0.6"/>
<line x1="44.3" y1="591.81" x2="45.5" y2="591.81" stroke="#111" stroke-width="0.6"/>
<line x1="90.24" y1="637.3" x2="90.24" y2="638.5" stroke="#111" stroke-width="0.6"/>
<line x1="44.3" y1="590.71" x2="45.5" y2="590.71" stroke="#111" stroke-width="0.6"/>
<line x1="91.15" y1="637.3" x2="91.15" y2="638.5" stroke="#111" stroke-width="0.6"/>
<line x1="44.3" y1="589.76" x2="45.5" y2="589.76" stroke="#111" stroke-width="0.6"/>
<line x1="91.96" y1="637.3" x2="91.96" y2="638.5" stroke="#111" stroke-width="0.6"/>
<line x1="44.3" y1="588.92" x2="45.5" y2="588.92" stroke="#111" stroke-width="0.6"/>
<line x1="92.68" y1="637.3" x2="92.68" y2="639.5" stroke="#111" stroke-width="0.6"/>
<line x1="43.3" y1="588.17" x2="45.5" y2="588.17" stroke="#111" stroke-width="0.6"/>
<line x1="97.41" y1="637.3" x2="97.41" y2="638.5" stroke="#111" stroke-width="0.6"/>
<line x1="44.3" y1="583.25" x2="45.5" y2="583.25" stroke="#111" stroke-width="0.6"/>
<line x1="100.18" y1="637.3" x2="100.18" y2="638.5" stroke="#111" stroke-width="0.6"/>
<line x1="44.3" y1="580.36" x2="45.5" y2="580.36" stroke="#111" stroke-width="0.6"/>
<line x1="102.14" y1="637.3" x2="102.14" y2="638.5" stroke="#111" stroke-width="0.6"/>
<line x1="44.3" y1="578.32" x2="45.5" y2="578.32" stroke="#111" stroke-width="0.6"/>
<line x1="103.67" y1="637.3" x2="103.67" y2="638.5" stroke="#111" stroke-width="0.6"/>
<line x1="44.3" y1="576.73" x2="45.5" y2="576.73" stroke="#111" stroke-width="0.6"/>
<line x1="104.91" y1="637.3" x2="104.91" y2="638.5" stroke="#111" stroke-width="0.6"/>
<line x1="44.3" y1="575.43" x2="45.5" y2="575.43" stroke="#111" stroke-width="0.6"/>
<line x1="105.96" y1="637.3" x2="105.96" y2="638.5" stroke="#111" stroke-width="0.6"/>
<line x1="44.3" y1="574.34" x2="45.5" y2="574.34" stroke="#111" stroke-width="0.6"/>
<line x1="106.88" y1="637.3" x2="106.88" y2="638.5" stroke="#111" stroke-width="0.6"/>
<line x1="44.3" y1="573.39" x2="45.5" y2="573.39" stroke="#111" stroke-width="0.6"/>
<line x1="107.68" y1="637.3" x2="107.68" y2="638.5" stroke="#111" stroke-width="0.6"/>
<line x1="44.3" y1="572.55" x2="45.5" y2="572.55" stroke="#111" stroke-width="0.6"/>
<text x="52.5" y="635.2" font-size="8.2" text-anchor="middle" fill="#222" font-weight="normal" >95</text>
<text x="77.5" y="567.8" font-size="8.2" text-anchor="middle" fill="#222" font-weight="normal" >Thymus RAG1<tspan font-size="5" dy="-3">-/-</tspan></text>
<text x="41.5" y="640.3" font-size="8.4" text-anchor="end" fill="#222" font-weight="normal" >10<tspan font-size="6" dy="-3.4">0</tspan></text>
<text x="41.5" y="623.9" font-size="8.4" text-anchor="end" fill="#222" font-weight="normal" >10<tspan font-size="6" dy="-3.4">1</tspan></text>
<text x="41.5" y="607.6" font-size="8.4" text-anchor="end" fill="#222" font-weight="normal" >10<tspan font-size="6" dy="-3.4">2</tspan></text>
<text x="41.5" y="591.2" font-size="8.4" text-anchor="end" fill="#222" font-weight="normal" >10<tspan font-size="6" dy="-3.4">3</tspan></text>
<text x="41.5" y="574.8" font-size="8.4" text-anchor="end" fill="#222" font-weight="normal" >10<tspan font-size="6" dy="-3.4">4</tspan></text>
<text x="46.8" y="652.8" font-size="8.2" text-anchor="middle" fill="#222" font-weight="normal" >10<tspan font-size="6" dy="-3.4">0</tspan></text>
<text x="62.519999999999996" y="652.8" font-size="8.2" text-anchor="middle" fill="#222" font-weight="normal" >10<tspan font-size="6" dy="-3.4">1</tspan></text>
<text x="78.24" y="652.8" font-size="8.2" text-anchor="middle" fill="#222" font-weight="normal" >10<tspan font-size="6" dy="-3.4">2</tspan></text>
<text x="93.96" y="652.8" font-size="8.2" text-anchor="middle" fill="#222" font-weight="normal" >10<tspan font-size="6" dy="-3.4">3</tspan></text>
<text x="109.67999999999999" y="652.8" font-size="8.2" text-anchor="middle" fill="#222" font-weight="normal" >10<tspan font-size="6" dy="-3.4">4</tspan></text>
<text x="31" y="665.6" font-size="9.2" text-anchor="start" fill="#222" font-weight="normal" textLength="57.5" lengthAdjust="spacingAndGlyphs">CD4 PerCPCy5.5</text>
<line x1="91" y1="662.6" x2="280" y2="662.6" stroke="#111" stroke-width="1.1"/>
<path d="M279,660 L285,662.6 L279,665.2Z" fill="#111"/>
<text transform="translate(21.6,616.3) rotate(-90)" font-size="9.2" text-anchor="middle" fill="#222"  textLength="56.6" lengthAdjust="spacingAndGlyphs">CD8 Pacific Blue</text>
<line x1="18.8" y1="586.5" x2="18.8" y2="576" stroke="#111" stroke-width="1.1"/>
<path d="M16.3,577 L18.8,571.6 L21.3,577Z" fill="#111"/>
<text x="129.5" y="601.5" font-size="8.2" text-anchor="middle" fill="#222" font-weight="normal" >HSC</text>
<text x="129.5" y="614.5" font-size="8.2" text-anchor="middle" fill="#222" font-weight="normal" >transfer</text>
<line x1="113" y1="605.7" x2="142" y2="605.7" stroke="#111" stroke-width="1.2"/>
<path d="M140.5,603 L146.3,605.7 L140.5,608.4Z" fill="#111"/>
<rect x="154.4" y="570.1" width="62.0" height="64.89999999999998" fill="#fff" stroke="#222" stroke-width="0.9"/>
<circle cx="156.8" cy="611.0" r="0.45" fill="#c8c8c8"/>
<circle cx="169.6" cy="608.7" r="0.45" fill="#c8c8c8"/>
<circle cx="167.9" cy="630.3" r="0.45" fill="#c8c8c8"/>
<circle cx="174.7" cy="595.7" r="0.45" fill="#c8c8c8"/>
<circle cx="172.6" cy="616.2" r="0.45" fill="#c8c8c8"/>
<circle cx="157.1" cy="605.1" r="0.45" fill="#c8c8c8"/>
<circle cx="160.9" cy="593.3" r="0.45" fill="#c8c8c8"/>
<circle cx="167.3" cy="629.1" r="0.45" fill="#c8c8c8"/>
<circle cx="162.8" cy="626.6" r="0.45" fill="#c8c8c8"/>
<circle cx="170.6" cy="595.6" r="0.45" fill="#c8c8c8"/>
<circle cx="174.0" cy="615.2" r="0.45" fill="#c8c8c8"/>
<circle cx="175.5" cy="620.1" r="0.45" fill="#c8c8c8"/>
<circle cx="171.5" cy="604.4" r="0.45" fill="#c8c8c8"/>
<circle cx="172.9" cy="629.1" r="0.45" fill="#c8c8c8"/>
<circle cx="174.1" cy="608.4" r="0.45" fill="#c8c8c8"/>
<circle cx="171.9" cy="610.4" r="0.45" fill="#c8c8c8"/>
<circle cx="158.3" cy="591.8" r="0.45" fill="#c8c8c8"/>
<circle cx="157.6" cy="598.4" r="0.45" fill="#c8c8c8"/>
<circle cx="159.4" cy="610.9" r="0.45" fill="#c8c8c8"/>
<circle cx="170.7" cy="612.6" r="0.45" fill="#c8c8c8"/>
<circle cx="164.9" cy="617.3" r="0.45" fill="#c8c8c8"/>
<circle cx="162.4" cy="609.5" r="0.45" fill="#c8c8c8"/>
<circle cx="171.9" cy="606.9" r="0.45" fill="#c8c8c8"/>
<circle cx="159.8" cy="627.8" r="0.45" fill="#c8c8c8"/>
<circle cx="171.1" cy="605.4" r="0.45" fill="#c8c8c8"/>
<circle cx="163.8" cy="612.2" r="0.45" fill="#c8c8c8"/>
<circle cx="168.5" cy="599.4" r="0.45" fill="#c8c8c8"/>
<circle cx="156.1" cy="598.8" r="0.45" fill="#c8c8c8"/>
<circle cx="172.4" cy="596.0" r="0.45" fill="#c8c8c8"/>
<circle cx="165.7" cy="598.2" r="0.45" fill="#c8c8c8"/>
<circle cx="160.4" cy="597.2" r="0.45" fill="#c8c8c8"/>
<circle cx="164.5" cy="597.1" r="0.45" fill="#c8c8c8"/>
<circle cx="156.6" cy="594.6" r="0.45" fill="#c8c8c8"/>
<circle cx="159.5" cy="610.6" r="0.45" fill="#c8c8c8"/>
<circle cx="157.3" cy="590.9" r="0.45" fill="#c8c8c8"/>
<circle cx="165.4" cy="607.1" r="0.45" fill="#c8c8c8"/>
<circle cx="170.8" cy="592.1" r="0.45" fill="#c8c8c8"/>
<circle cx="164.5" cy="606.7" r="0.45" fill="#c8c8c8"/>
<circle cx="156.6" cy="630.6" r="0.45" fill="#c8c8c8"/>
<circle cx="160.6" cy="594.0" r="0.45" fill="#c8c8c8"/>
<circle cx="166.0" cy="596.9" r="0.45" fill="#c8c8c8"/>
<circle cx="169.1" cy="604.5" r="0.45" fill="#c8c8c8"/>
<circle cx="158.6" cy="592.2" r="0.45" fill="#c8c8c8"/>
<circle cx="171.3" cy="601.6" r="0.45" fill="#c8c8c8"/>
<circle cx="172.5" cy="609.5" r="0.45" fill="#c8c8c8"/>
<circle cx="175.6" cy="602.6" r="0.45" fill="#c8c8c8"/>
<circle cx="161.2" cy="601.2" r="0.45" fill="#c8c8c8"/>
<circle cx="173.1" cy="616.4" r="0.45" fill="#c8c8c8"/>
<circle cx="163.2" cy="593.9" r="0.45" fill="#c8c8c8"/>
<circle cx="170.3" cy="630.7" r="0.45" fill="#c8c8c8"/>
<circle cx="191.4" cy="613.1" r="0.45" fill="#c8c8c8"/>
<circle cx="179.6" cy="614.8" r="0.45" fill="#c8c8c8"/>
<circle cx="182.6" cy="613.7" r="0.45" fill="#c8c8c8"/>
<circle cx="180.1" cy="626.1" r="0.45" fill="#c8c8c8"/>
<circle cx="197.9" cy="617.0" r="0.45" fill="#c8c8c8"/>
<circle cx="199.5" cy="622.5" r="0.45" fill="#c8c8c8"/>
<circle cx="195.9" cy="631.3" r="0.45" fill="#c8c8c8"/>
<circle cx="198.7" cy="613.7" r="0.45" fill="#c8c8c8"/>
<circle cx="185.4" cy="625.1" r="0.45" fill="#c8c8c8"/>
<circle cx="198.9" cy="614.8" r="0.45" fill="#c8c8c8"/>
<circle cx="185.2" cy="630.0" r="0.45" fill="#c8c8c8"/>
<circle cx="181.4" cy="620.8" r="0.45" fill="#c8c8c8"/>
<circle cx="186.0" cy="626.6" r="0.45" fill="#c8c8c8"/>
<circle cx="198.5" cy="616.5" r="0.45" fill="#c8c8c8"/>
<circle cx="194.5" cy="627.7" r="0.45" fill="#c8c8c8"/>
<circle cx="196.5" cy="624.1" r="0.45" fill="#c8c8c8"/>
<circle cx="198.4" cy="620.3" r="0.45" fill="#c8c8c8"/>
<circle cx="187.7" cy="617.6" r="0.45" fill="#c8c8c8"/>
<circle cx="195.4" cy="622.6" r="0.45" fill="#c8c8c8"/>
<circle cx="184.7" cy="616.4" r="0.45" fill="#c8c8c8"/>
<circle cx="194.1" cy="625.1" r="0.45" fill="#c8c8c8"/>
<circle cx="193.9" cy="620.7" r="0.45" fill="#c8c8c8"/>
<circle cx="189.2" cy="616.1" r="0.45" fill="#c8c8c8"/>
<circle cx="193.9" cy="613.5" r="0.45" fill="#c8c8c8"/>
<circle cx="188.8" cy="628.2" r="0.45" fill="#c8c8c8"/>
<path d="M177.5,600.5 C180,596.5 184.5,594.3 188.5,594.3 C192,594.5 193,597 192.4,602 C191.8,606 190,610 190.5,614 C191.5,619 193.5,625 192.5,629.5 C190.5,632.8 185,632.5 182,630.5 C179,628 179,622 178.3,616 C177.5,610 176.3,604.5 177.5,600.5Z" fill="#e2e2e2" stroke="#444" stroke-width="0.9"/>
<path d="M180.5,617 C183,615.5 187,616.5 188.8,620.5 C190.3,624.5 189.8,628.5 187,629.5 C184.2,630 182.3,627.5 181.6,624.3 C181,621.3 180.2,619 180.5,617Z" fill="#d0d0d0" stroke="#666" stroke-width="0.7"/>
<path d="M179,601.5 C181.5,597.5 185.5,595.8 189,596.3 C191.3,597 191,602 189.5,606.5 C188,610 185,610.5 182,609 C179.5,607.5 178.3,604.5 179,601.5Z" fill="#8e8e8e" stroke="#111" stroke-width="1"/>
<path d="M181.5,602 C183.5,599.3 186.5,598.5 188.3,599.3 C189.2,600.5 188.5,604 187,606 C185.5,607.5 183.3,607.3 182,606 C181,605 181,603.3 181.5,602Z" fill="#c8c8c8" stroke="#444" stroke-width="0.5"/>
<ellipse cx="163.6" cy="600.6" rx="6.50" ry="3.60" transform="rotate(0,163.6,600.6)" fill="#e0e0e0" stroke="#666" stroke-width="0.6"/>
<ellipse cx="163.6" cy="600.6" rx="4.33" ry="2.40" transform="rotate(0,163.6,600.6)" fill="none" stroke="#666" stroke-width="0.6"/>
<ellipse cx="163.6" cy="600.6" rx="2.17" ry="1.20" transform="rotate(0,163.6,600.6)" fill="none" stroke="#999" stroke-width="0.6"/>
<ellipse cx="163.5" cy="620.5" rx="5.00" ry="3.20" transform="rotate(-10,163.5,620.5)" fill="#ebebeb" stroke="#999" stroke-width="0.5"/>
<ellipse cx="163.5" cy="620.5" rx="2.50" ry="1.60" transform="rotate(-10,163.5,620.5)" fill="none" stroke="#999" stroke-width="0.5"/>
<line x1="178.5" y1="570.1" x2="178.5" y2="635" stroke="#999" stroke-width="0.8"/>
<line x1="154.4" y1="612.6" x2="216.4" y2="612.6" stroke="#999" stroke-width="0.8"/>
<line x1="154.4" y1="569.6" x2="154.4" y2="635.6" stroke="#111" stroke-width="1.4"/>
<line x1="153.8" y1="635" x2="216.9" y2="635" stroke="#111" stroke-width="1.4"/>
<line x1="154.40" y1="635" x2="154.40" y2="637.2" stroke="#111" stroke-width="0.6"/>
<line x1="152.20000000000002" y1="635.00" x2="154.4" y2="635.00" stroke="#111" stroke-width="0.6"/>
<line x1="159.07" y1="635" x2="159.07" y2="636.2" stroke="#111" stroke-width="0.6"/>
<line x1="153.20000000000002" y1="630.12" x2="154.4" y2="630.12" stroke="#111" stroke-width="0.6"/>
<line x1="161.80" y1="635" x2="161.80" y2="636.2" stroke="#111" stroke-width="0.6"/>
<line x1="153.20000000000002" y1="627.26" x2="154.4" y2="627.26" stroke="#111" stroke-width="0.6"/>
<line x1="163.73" y1="635" x2="163.73" y2="636.2" stroke="#111" stroke-width="0.6"/>
<line x1="153.20000000000002" y1="625.23" x2="154.4" y2="625.23" stroke="#111" stroke-width="0.6"/>
<line x1="165.23" y1="635" x2="165.23" y2="636.2" stroke="#111" stroke-width="0.6"/>
<line x1="153.20000000000002" y1="623.66" x2="154.4" y2="623.66" stroke="#111" stroke-width="0.6"/>
<line x1="166.46" y1="635" x2="166.46" y2="636.2" stroke="#111" stroke-width="0.6"/>
<line x1="153.20000000000002" y1="622.37" x2="154.4" y2="622.37" stroke="#111" stroke-width="0.6"/>
<line x1="167.50" y1="635" x2="167.50" y2="636.2" stroke="#111" stroke-width="0.6"/>
<line x1="153.20000000000002" y1="621.29" x2="154.4" y2="621.29" stroke="#111" stroke-width="0.6"/>
<line x1="168.40" y1="635" x2="168.40" y2="636.2" stroke="#111" stroke-width="0.6"/>
<line x1="153.20000000000002" y1="620.35" x2="154.4" y2="620.35" stroke="#111" stroke-width="0.6"/>
<line x1="169.19" y1="635" x2="169.19" y2="636.2" stroke="#111" stroke-width="0.6"/>
<line x1="153.20000000000002" y1="619.52" x2="154.4" y2="619.52" stroke="#111" stroke-width="0.6"/>
<line x1="169.90" y1="635" x2="169.90" y2="637.2" stroke="#111" stroke-width="0.6"/>
<line x1="152.20000000000002" y1="618.77" x2="154.4" y2="618.77" stroke="#111" stroke-width="0.6"/>
<line x1="174.57" y1="635" x2="174.57" y2="636.2" stroke="#111" stroke-width="0.6"/>
<line x1="153.20000000000002" y1="613.89" x2="154.4" y2="613.89" stroke="#111" stroke-width="0.6"/>
<line x1="177.30" y1="635" x2="177.30" y2="636.2" stroke="#111" stroke-width="0.6"/>
<line x1="153.20000000000002" y1="611.03" x2="154.4" y2="611.03" stroke="#111" stroke-width="0.6"/>
<line x1="179.23" y1="635" x2="179.23" y2="636.2" stroke="#111" stroke-width="0.6"/>
<line x1="153.20000000000002" y1="609.01" x2="154.4" y2="609.01" stroke="#111" stroke-width="0.6"/>
<line x1="180.73" y1="635" x2="180.73" y2="636.2" stroke="#111" stroke-width="0.6"/>
<line x1="153.20000000000002" y1="607.43" x2="154.4" y2="607.43" stroke="#111" stroke-width="0.6"/>
<line x1="181.96" y1="635" x2="181.96" y2="636.2" stroke="#111" stroke-width="0.6"/>
<line x1="153.20000000000002" y1="606.15" x2="154.4" y2="606.15" stroke="#111" stroke-width="0.6"/>
<line x1="183.00" y1="635" x2="183.00" y2="636.2" stroke="#111" stroke-width="0.6"/>
<line x1="153.20000000000002" y1="605.06" x2="154.4" y2="605.06" stroke="#111" stroke-width="0.6"/>
<line x1="183.90" y1="635" x2="183.90" y2="636.2" stroke="#111" stroke-width="0.6"/>
<line x1="153.20000000000002" y1="604.12" x2="154.4" y2="604.12" stroke="#111" stroke-width="0.6"/>
<line x1="184.69" y1="635" x2="184.69" y2="636.2" stroke="#111" stroke-width="0.6"/>
<line x1="153.20000000000002" y1="603.29" x2="154.4" y2="603.29" stroke="#111" stroke-width="0.6"/>
<line x1="185.40" y1="635" x2="185.40" y2="637.2" stroke="#111" stroke-width="0.6"/>
<line x1="152.20000000000002" y1="602.55" x2="154.4" y2="602.55" stroke="#111" stroke-width="0.6"/>
<line x1="190.07" y1="635" x2="190.07" y2="636.2" stroke="#111" stroke-width="0.6"/>
<line x1="153.20000000000002" y1="597.67" x2="154.4" y2="597.67" stroke="#111" stroke-width="0.6"/>
<line x1="192.80" y1="635" x2="192.80" y2="636.2" stroke="#111" stroke-width="0.6"/>
<line x1="153.20000000000002" y1="594.81" x2="154.4" y2="594.81" stroke="#111" stroke-width="0.6"/>
<line x1="194.73" y1="635" x2="194.73" y2="636.2" stroke="#111" stroke-width="0.6"/>
<line x1="153.20000000000002" y1="592.78" x2="154.4" y2="592.78" stroke="#111" stroke-width="0.6"/>
<line x1="196.23" y1="635" x2="196.23" y2="636.2" stroke="#111" stroke-width="0.6"/>
<line x1="153.20000000000002" y1="591.21" x2="154.4" y2="591.21" stroke="#111" stroke-width="0.6"/>
<line x1="197.46" y1="635" x2="197.46" y2="636.2" stroke="#111" stroke-width="0.6"/>
<line x1="153.20000000000002" y1="589.92" x2="154.4" y2="589.92" stroke="#111" stroke-width="0.6"/>
<line x1="198.50" y1="635" x2="198.50" y2="636.2" stroke="#111" stroke-width="0.6"/>
<line x1="153.20000000000002" y1="588.84" x2="154.4" y2="588.84" stroke="#111" stroke-width="0.6"/>
<line x1="199.40" y1="635" x2="199.40" y2="636.2" stroke="#111" stroke-width="0.6"/>
<line x1="153.20000000000002" y1="587.90" x2="154.4" y2="587.90" stroke="#111" stroke-width="0.6"/>
<line x1="200.19" y1="635" x2="200.19" y2="636.2" stroke="#111" stroke-width="0.6"/>
<line x1="153.20000000000002" y1="587.07" x2="154.4" y2="587.07" stroke="#111" stroke-width="0.6"/>
<line x1="200.90" y1="635" x2="200.90" y2="637.2" stroke="#111" stroke-width="0.6"/>
<line x1="152.20000000000002" y1="586.33" x2="154.4" y2="586.33" stroke="#111" stroke-width="0.6"/>
<line x1="205.57" y1="635" x2="205.57" y2="636.2" stroke="#111" stroke-width="0.6"/>
<line x1="153.20000000000002" y1="581.44" x2="154.4" y2="581.44" stroke="#111" stroke-width="0.6"/>
<line x1="208.30" y1="635" x2="208.30" y2="636.2" stroke="#111" stroke-width="0.6"/>
<line x1="153.20000000000002" y1="578.58" x2="154.4" y2="578.58" stroke="#111" stroke-width="0.6"/>
<line x1="210.23" y1="635" x2="210.23" y2="636.2" stroke="#111" stroke-width="0.6"/>
<line x1="153.20000000000002" y1="576.56" x2="154.4" y2="576.56" stroke="#111" stroke-width="0.6"/>
<line x1="211.73" y1="635" x2="211.73" y2="636.2" stroke="#111" stroke-width="0.6"/>
<line x1="153.20000000000002" y1="574.98" x2="154.4" y2="574.98" stroke="#111" stroke-width="0.6"/>
<line x1="212.96" y1="635" x2="212.96" y2="636.2" stroke="#111" stroke-width="0.6"/>
<line x1="153.20000000000002" y1="573.70" x2="154.4" y2="573.70" stroke="#111" stroke-width="0.6"/>
<line x1="214.00" y1="635" x2="214.00" y2="636.2" stroke="#111" stroke-width="0.6"/>
<line x1="153.20000000000002" y1="572.61" x2="154.4" y2="572.61" stroke="#111" stroke-width="0.6"/>
<line x1="214.90" y1="635" x2="214.90" y2="636.2" stroke="#111" stroke-width="0.6"/>
<line x1="153.20000000000002" y1="571.67" x2="154.4" y2="571.67" stroke="#111" stroke-width="0.6"/>
<line x1="215.69" y1="635" x2="215.69" y2="636.2" stroke="#111" stroke-width="0.6"/>
<line x1="153.20000000000002" y1="570.84" x2="154.4" y2="570.84" stroke="#111" stroke-width="0.6"/>
<text x="161.2" y="579.6" font-size="8.6" text-anchor="middle" fill="#222" font-weight="normal" >6</text>
<text x="208.4" y="579.6" font-size="8.6" text-anchor="middle" fill="#222" font-weight="normal" >75</text>
<text x="161.2" y="631.5" font-size="8.6" text-anchor="middle" fill="#222" font-weight="normal" >4</text>
<text x="208.4" y="631.5" font-size="8.6" text-anchor="middle" fill="#222" font-weight="normal" >15</text>
<text x="186.5" y="567.3" font-size="8.6" text-anchor="middle" fill="#222" font-weight="normal" >DY</text>
<rect x="222.9" y="570.1" width="62.79999999999998" height="64.89999999999998" fill="#fff" stroke="#222" stroke-width="0.9"/>
<circle cx="238.2" cy="599.3" r="0.45" fill="#cfcfcf"/>
<circle cx="229.0" cy="609.0" r="0.45" fill="#cfcfcf"/>
<circle cx="237.5" cy="609.4" r="0.45" fill="#cfcfcf"/>
<circle cx="242.3" cy="603.8" r="0.45" fill="#cfcfcf"/>
<circle cx="242.8" cy="607.5" r="0.45" fill="#cfcfcf"/>
<circle cx="231.0" cy="602.8" r="0.45" fill="#cfcfcf"/>
<circle cx="225.5" cy="603.2" r="0.45" fill="#cfcfcf"/>
<circle cx="244.1" cy="599.4" r="0.45" fill="#cfcfcf"/>
<circle cx="235.9" cy="599.4" r="0.45" fill="#cfcfcf"/>
<circle cx="225.7" cy="606.4" r="0.45" fill="#cfcfcf"/>
<circle cx="229.1" cy="598.6" r="0.45" fill="#cfcfcf"/>
<circle cx="227.2" cy="606.4" r="0.45" fill="#cfcfcf"/>
<circle cx="236.3" cy="598.2" r="0.45" fill="#cfcfcf"/>
<circle cx="228.8" cy="610.6" r="0.45" fill="#cfcfcf"/>
<circle cx="228.6" cy="605.3" r="0.45" fill="#cfcfcf"/>
<circle cx="232.8" cy="608.2" r="0.45" fill="#cfcfcf"/>
<circle cx="236.7" cy="608.3" r="0.45" fill="#cfcfcf"/>
<circle cx="235.2" cy="600.4" r="0.45" fill="#cfcfcf"/>
<circle cx="227.7" cy="599.0" r="0.45" fill="#cfcfcf"/>
<circle cx="241.3" cy="599.5" r="0.45" fill="#cfcfcf"/>
<circle cx="224.5" cy="610.6" r="0.45" fill="#cfcfcf"/>
<circle cx="228.2" cy="609.6" r="0.45" fill="#cfcfcf"/>
<circle cx="225.8" cy="604.0" r="0.45" fill="#cfcfcf"/>
<circle cx="228.7" cy="608.8" r="0.45" fill="#cfcfcf"/>
<circle cx="236.9" cy="606.3" r="0.45" fill="#cfcfcf"/>
<circle cx="240.0" cy="609.3" r="0.45" fill="#cfcfcf"/>
<circle cx="231.3" cy="605.8" r="0.45" fill="#cfcfcf"/>
<circle cx="233.4" cy="599.4" r="0.45" fill="#cfcfcf"/>
<circle cx="241.5" cy="605.7" r="0.45" fill="#cfcfcf"/>
<circle cx="241.1" cy="600.7" r="0.45" fill="#cfcfcf"/>
<circle cx="259.9" cy="622.3" r="0.45" fill="#cfcfcf"/>
<circle cx="264.0" cy="614.5" r="0.45" fill="#cfcfcf"/>
<circle cx="255.6" cy="622.7" r="0.45" fill="#cfcfcf"/>
<circle cx="249.6" cy="624.1" r="0.45" fill="#cfcfcf"/>
<circle cx="264.2" cy="621.5" r="0.45" fill="#cfcfcf"/>
<circle cx="262.3" cy="625.1" r="0.45" fill="#cfcfcf"/>
<circle cx="252.7" cy="620.0" r="0.45" fill="#cfcfcf"/>
<circle cx="269.9" cy="619.7" r="0.45" fill="#cfcfcf"/>
<circle cx="257.5" cy="614.7" r="0.45" fill="#cfcfcf"/>
<circle cx="252.8" cy="616.3" r="0.45" fill="#cfcfcf"/>
<circle cx="268.5" cy="627.5" r="0.45" fill="#cfcfcf"/>
<circle cx="267.2" cy="632.7" r="0.45" fill="#cfcfcf"/>
<circle cx="261.5" cy="631.6" r="0.45" fill="#cfcfcf"/>
<circle cx="259.8" cy="621.4" r="0.45" fill="#cfcfcf"/>
<circle cx="268.9" cy="631.1" r="0.45" fill="#cfcfcf"/>
<circle cx="268.9" cy="622.7" r="0.45" fill="#cfcfcf"/>
<circle cx="265.0" cy="621.1" r="0.45" fill="#cfcfcf"/>
<circle cx="269.9" cy="631.4" r="0.45" fill="#cfcfcf"/>
<circle cx="254.4" cy="631.7" r="0.45" fill="#cfcfcf"/>
<circle cx="252.1" cy="614.9" r="0.45" fill="#cfcfcf"/>
<ellipse cx="231" cy="594" rx="6.8" ry="3.8" fill="#bbb" stroke="#555" stroke-width="0.7"/>
<ellipse cx="231" cy="594" rx="4.2" ry="2.2" fill="#999" stroke="#666" stroke-width="0.5"/>
<ellipse cx="256" cy="600.5" rx="4.3" ry="6.8" transform="rotate(22,256,600.5)" fill="#555" stroke="#111" stroke-width="1"/>
<ellipse cx="256.3" cy="600" rx="2" ry="3.6" transform="rotate(22,256,600)" fill="#aaa"/>
<path d="M223.5,616 C228,612.5 238,612.5 243,614.5 C248,617 248,623 245,627 C241,631 233,632 228,631 C224.5,630 223.5,626 223.5,622Z" fill="#b4b4b4" stroke="#222" stroke-width="1"/>
<path d="M225,618 C229,615.5 237,615.5 241,617 C244.5,619 244,623 241.5,626 C238,629 232,629.5 228,628.5 C225.5,627.5 225,624 225,621Z" fill="#9c9c9c" stroke="#444" stroke-width="0.7"/>
<ellipse cx="232" cy="620.5" rx="3.5" ry="2.3" fill="#ddd"/>
<ellipse cx="259" cy="623.5" rx="3.8" ry="7" transform="rotate(-8,259,623.5)" fill="#bbb" stroke="#444" stroke-width="0.8"/>
<ellipse cx="259" cy="623.5" rx="2" ry="4.2" transform="rotate(-8,259,623.5)" fill="#ddd" stroke="#777" stroke-width="0.5"/>
<line x1="246.4" y1="570.1" x2="246.4" y2="635" stroke="#999" stroke-width="0.8"/>
<line x1="222.9" y1="612.2" x2="285.7" y2="612.2" stroke="#999" stroke-width="0.8"/>
<line x1="222.9" y1="569.6" x2="222.9" y2="635.6" stroke="#111" stroke-width="1.4"/>
<line x1="222.3" y1="635" x2="286.2" y2="635" stroke="#111" stroke-width="1.4"/>
<line x1="222.90" y1="635" x2="222.90" y2="637.2" stroke="#111" stroke-width="0.6"/>
<line x1="220.70000000000002" y1="635.00" x2="222.9" y2="635.00" stroke="#111" stroke-width="0.6"/>
<line x1="227.63" y1="635" x2="227.63" y2="636.2" stroke="#111" stroke-width="0.6"/>
<line x1="221.70000000000002" y1="630.12" x2="222.9" y2="630.12" stroke="#111" stroke-width="0.6"/>
<line x1="230.39" y1="635" x2="230.39" y2="636.2" stroke="#111" stroke-width="0.6"/>
<line x1="221.70000000000002" y1="627.26" x2="222.9" y2="627.26" stroke="#111" stroke-width="0.6"/>
<line x1="232.35" y1="635" x2="232.35" y2="636.2" stroke="#111" stroke-width="0.6"/>
<line x1="221.70000000000002" y1="625.23" x2="222.9" y2="625.23" stroke="#111" stroke-width="0.6"/>
<line x1="233.87" y1="635" x2="233.87" y2="636.2" stroke="#111" stroke-width="0.6"/>
<line x1="221.70000000000002" y1="623.66" x2="222.9" y2="623.66" stroke="#111" stroke-width="0.6"/>
<line x1="235.12" y1="635" x2="235.12" y2="636.2" stroke="#111" stroke-width="0.6"/>
<line x1="221.70000000000002" y1="622.37" x2="222.9" y2="622.37" stroke="#111" stroke-width="0.6"/>
<line x1="236.17" y1="635" x2="236.17" y2="636.2" stroke="#111" stroke-width="0.6"/>
<line x1="221.70000000000002" y1="621.29" x2="222.9" y2="621.29" stroke="#111" stroke-width="0.6"/>
<line x1="237.08" y1="635" x2="237.08" y2="636.2" stroke="#111" stroke-width="0.6"/>
<line x1="221.70000000000002" y1="620.35" x2="222.9" y2="620.35" stroke="#111" stroke-width="0.6"/>
<line x1="237.88" y1="635" x2="237.88" y2="636.2" stroke="#111" stroke-width="0.6"/>
<line x1="221.70000000000002" y1="619.52" x2="222.9" y2="619.52" stroke="#111" stroke-width="0.6"/>
<line x1="238.60" y1="635" x2="238.60" y2="637.2" stroke="#111" stroke-width="0.6"/>
<line x1="220.70000000000002" y1="618.77" x2="222.9" y2="618.77" stroke="#111" stroke-width="0.6"/>
<line x1="243.33" y1="635" x2="243.33" y2="636.2" stroke="#111" stroke-width="0.6"/>
<line x1="221.70000000000002" y1="613.89" x2="222.9" y2="613.89" stroke="#111" stroke-width="0.6"/>
<line x1="246.09" y1="635" x2="246.09" y2="636.2" stroke="#111" stroke-width="0.6"/>
<line x1="221.70000000000002" y1="611.03" x2="222.9" y2="611.03" stroke="#111" stroke-width="0.6"/>
<line x1="248.05" y1="635" x2="248.05" y2="636.2" stroke="#111" stroke-width="0.6"/>
<line x1="221.70000000000002" y1="609.01" x2="222.9" y2="609.01" stroke="#111" stroke-width="0.6"/>
<line x1="249.57" y1="635" x2="249.57" y2="636.2" stroke="#111" stroke-width="0.6"/>
<line x1="221.70000000000002" y1="607.43" x2="222.9" y2="607.43" stroke="#111" stroke-width="0.6"/>
<line x1="250.82" y1="635" x2="250.82" y2="636.2" stroke="#111" stroke-width="0.6"/>
<line x1="221.70000000000002" y1="606.15" x2="222.9" y2="606.15" stroke="#111" stroke-width="0.6"/>
<line x1="251.87" y1="635" x2="251.87" y2="636.2" stroke="#111" stroke-width="0.6"/>
<line x1="221.70000000000002" y1="605.06" x2="222.9" y2="605.06" stroke="#111" stroke-width="0.6"/>
<line x1="252.78" y1="635" x2="252.78" y2="636.2" stroke="#111" stroke-width="0.6"/>
<line x1="221.70000000000002" y1="604.12" x2="222.9" y2="604.12" stroke="#111" stroke-width="0.6"/>
<line x1="253.58" y1="635" x2="253.58" y2="636.2" stroke="#111" stroke-width="0.6"/>
<line x1="221.70000000000002" y1="603.29" x2="222.9" y2="603.29" stroke="#111" stroke-width="0.6"/>
<line x1="254.30" y1="635" x2="254.30" y2="637.2" stroke="#111" stroke-width="0.6"/>
<line x1="220.70000000000002" y1="602.55" x2="222.9" y2="602.55" stroke="#111" stroke-width="0.6"/>
<line x1="259.03" y1="635" x2="259.03" y2="636.2" stroke="#111" stroke-width="0.6"/>
<line x1="221.70000000000002" y1="597.67" x2="222.9" y2="597.67" stroke="#111" stroke-width="0.6"/>
<line x1="261.79" y1="635" x2="261.79" y2="636.2" stroke="#111" stroke-width="0.6"/>
<line x1="221.70000000000002" y1="594.81" x2="222.9" y2="594.81" stroke="#111" stroke-width="0.6"/>
<line x1="263.75" y1="635" x2="263.75" y2="636.2" stroke="#111" stroke-width="0.6"/>
<line x1="221.70000000000002" y1="592.78" x2="222.9" y2="592.78" stroke="#111" stroke-width="0.6"/>
<line x1="265.27" y1="635" x2="265.27" y2="636.2" stroke="#111" stroke-width="0.6"/>
<line x1="221.70000000000002" y1="591.21" x2="222.9" y2="591.21" stroke="#111" stroke-width="0.6"/>
<line x1="266.52" y1="635" x2="266.52" y2="636.2" stroke="#111" stroke-width="0.6"/>
<line x1="221.70000000000002" y1="589.92" x2="222.9" y2="589.92" stroke="#111" stroke-width="0.6"/>
<line x1="267.57" y1="635" x2="267.57" y2="636.2" stroke="#111" stroke-width="0.6"/>
<line x1="221.70000000000002" y1="588.84" x2="222.9" y2="588.84" stroke="#111" stroke-width="0.6"/>
<line x1="268.48" y1="635" x2="268.48" y2="636.2" stroke="#111" stroke-width="0.6"/>
<line x1="221.70000000000002" y1="587.90" x2="222.9" y2="587.90" stroke="#111" stroke-width="0.6"/>
<line x1="269.28" y1="635" x2="269.28" y2="636.2" stroke="#111" stroke-width="0.6"/>
<line x1="221.70000000000002" y1="587.07" x2="222.9" y2="587.07" stroke="#111" stroke-width="0.6"/>
<line x1="270.00" y1="635" x2="270.00" y2="637.2" stroke="#111" stroke-width="0.6"/>
<line x1="220.70000000000002" y1="586.33" x2="222.9" y2="586.33" stroke="#111" stroke-width="0.6"/>
<line x1="274.73" y1="635" x2="274.73" y2="636.2" stroke="#111" stroke-width="0.6"/>
<line x1="221.70000000000002" y1="581.44" x2="222.9" y2="581.44" stroke="#111" stroke-width="0.6"/>
<line x1="277.49" y1="635" x2="277.49" y2="636.2" stroke="#111" stroke-width="0.6"/>
<line x1="221.70000000000002" y1="578.58" x2="222.9" y2="578.58" stroke="#111" stroke-width="0.6"/>
<line x1="279.45" y1="635" x2="279.45" y2="636.2" stroke="#111" stroke-width="0.6"/>
<line x1="221.70000000000002" y1="576.56" x2="222.9" y2="576.56" stroke="#111" stroke-width="0.6"/>
<line x1="280.97" y1="635" x2="280.97" y2="636.2" stroke="#111" stroke-width="0.6"/>
<line x1="221.70000000000002" y1="574.98" x2="222.9" y2="574.98" stroke="#111" stroke-width="0.6"/>
<line x1="282.22" y1="635" x2="282.22" y2="636.2" stroke="#111" stroke-width="0.6"/>
<line x1="221.70000000000002" y1="573.70" x2="222.9" y2="573.70" stroke="#111" stroke-width="0.6"/>
<line x1="283.27" y1="635" x2="283.27" y2="636.2" stroke="#111" stroke-width="0.6"/>
<line x1="221.70000000000002" y1="572.61" x2="222.9" y2="572.61" stroke="#111" stroke-width="0.6"/>
<line x1="284.18" y1="635" x2="284.18" y2="636.2" stroke="#111" stroke-width="0.6"/>
<line x1="221.70000000000002" y1="571.67" x2="222.9" y2="571.67" stroke="#111" stroke-width="0.6"/>
<line x1="284.98" y1="635" x2="284.98" y2="636.2" stroke="#111" stroke-width="0.6"/>
<line x1="221.70000000000002" y1="570.84" x2="222.9" y2="570.84" stroke="#111" stroke-width="0.6"/>
<text x="229.2" y="579.6" font-size="8.6" text-anchor="middle" fill="#222" font-weight="normal" >8</text>
<text x="277.7" y="579.6" font-size="8.6" text-anchor="middle" fill="#222" font-weight="normal" >19</text>
<text x="231" y="631.5" font-size="8" text-anchor="middle" fill="#555" font-weight="normal" >64</text>
<text x="279.8" y="631.5" font-size="8.6" text-anchor="middle" fill="#222" font-weight="normal" >9</text>
<text x="256.8" y="567.3" font-size="8.6" text-anchor="middle" fill="#222" font-weight="normal" >DO</text>
<use href="#smouse" transform="translate(203,560) scale(0.8235294117647058)" />
<use href="#syr" transform="translate(203,548.1411764705882) rotate(45) scale(0.77234449660252)" /></svg></body></html>
